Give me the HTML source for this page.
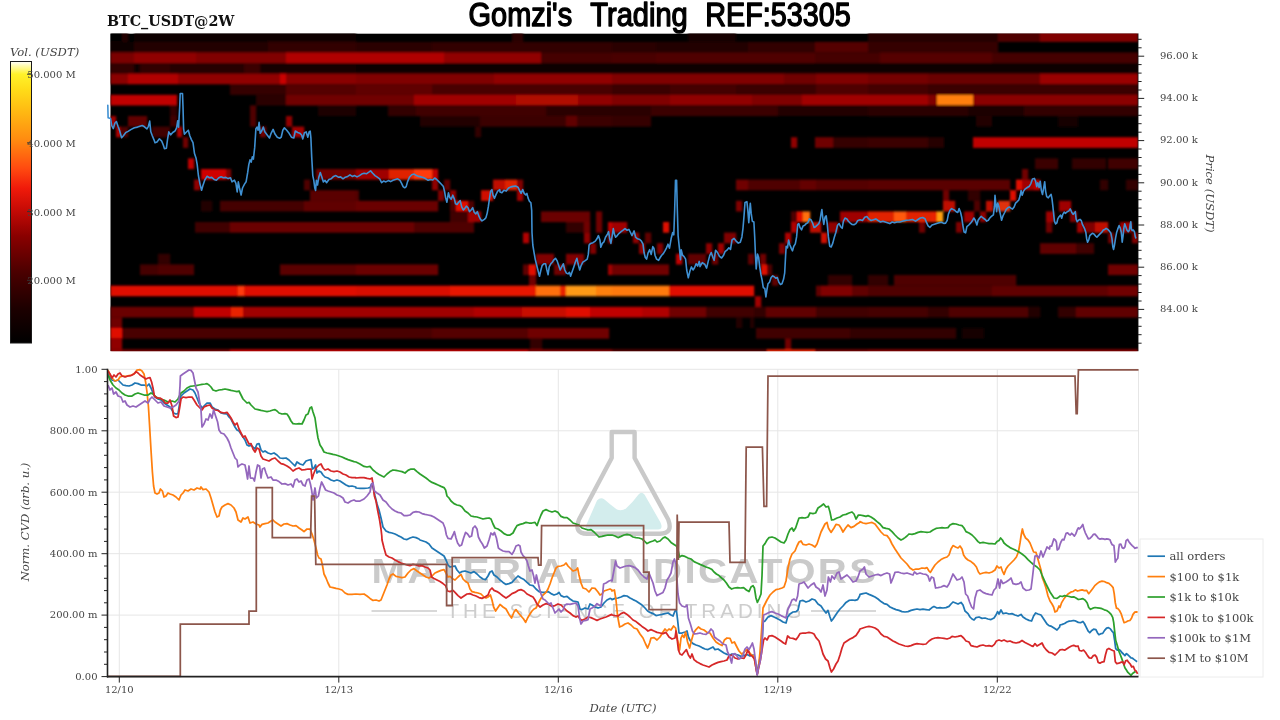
<!DOCTYPE html>
<html lang="en"><head><meta charset="utf-8"><title>Gomzi's Trading REF:53305</title>
<style>html,body{margin:0;padding:0;background:#fff;}body{width:1280px;height:720px;overflow:hidden;}svg{display:block;}text{font-family:'DejaVu Serif','Liberation Serif',serif;}.tk{font-size:10px;fill:#444;}.ax{font-size:11.6px;fill:#444;font-style:italic;}.lg{font-size:11.5px;fill:#444;}</style></head><body>
<svg width="1280" height="720" viewBox="0 0 1280 720">
<defs>
<linearGradient id="cb" x1="0" y1="1" x2="0" y2="0">
<stop offset="0" stop-color="#000000"/>
<stop offset="0.12" stop-color="#1c0000"/>
<stop offset="0.25" stop-color="#4a0000"/>
<stop offset="0.38" stop-color="#8a0000"/>
<stop offset="0.47" stop-color="#c40a05"/>
<stop offset="0.55" stop-color="#f01a0a"/>
<stop offset="0.62" stop-color="#ff4a10"/>
<stop offset="0.72" stop-color="#ff8a10"/>
<stop offset="0.82" stop-color="#ffb812"/>
<stop offset="0.9" stop-color="#ffdc18"/>
<stop offset="0.955" stop-color="#fff22a"/>
<stop offset="0.985" stop-color="#fffbb0"/>
<stop offset="1" stop-color="#ffffff"/>
</linearGradient>
<clipPath id="hc"><rect x="110.3" y="33.4" width="1027.8" height="317.8"/></clipPath>
<clipPath id="bc"><rect x="107" y="368" width="1032" height="309.5"/></clipPath>
<filter id="bl" x="-2%" y="-5%" width="104%" height="110%"><feGaussianBlur stdDeviation="1.0"/></filter>
</defs>
<rect width="1280" height="720" fill="#fff"/>
<g id="heatmap" clip-path="url(#hc)">
<rect x="110.3" y="33.4" width="1027.8" height="317.8" fill="#000"/>
<g filter="url(#bl)"><rect x="110.4" y="31.2" width="11.7" height="10.70" fill="#060000"/><rect x="122.0" y="31.2" width="6.2" height="10.70" fill="#240000"/><rect x="134.0" y="31.2" width="222.2" height="10.70" fill="#110000"/><rect x="110.4" y="41.8" width="23.7" height="10.70" fill="#100000"/><rect x="134.0" y="41.8" width="134.2" height="10.70" fill="#240000"/><rect x="268.0" y="41.8" width="88.2" height="10.70" fill="#330000"/><rect x="110.4" y="52.4" width="23.7" height="10.70" fill="#7a0000"/><rect x="134.0" y="52.4" width="62.1" height="10.70" fill="#900000"/><rect x="196.0" y="52.4" width="90.2" height="10.70" fill="#800000"/><rect x="286.0" y="52.4" width="70.2" height="10.70" fill="#b00000"/><rect x="110.4" y="63.0" width="23.7" height="10.70" fill="#300000"/><rect x="134.0" y="63.0" width="6.2" height="10.70" fill="#0a0000"/><rect x="140.0" y="63.0" width="30.1" height="10.70" fill="#300000"/><rect x="170.0" y="63.0" width="74.2" height="10.70" fill="#280000"/><rect x="244.0" y="63.0" width="16.1" height="10.70" fill="#3a0000"/><rect x="260.0" y="63.0" width="96.2" height="10.70" fill="#140000"/><rect x="110.4" y="73.6" width="17.7" height="10.70" fill="#8a0000"/><rect x="128.0" y="73.6" width="50.1" height="10.70" fill="#b00000"/><rect x="178.0" y="73.6" width="102.2" height="10.70" fill="#900000"/><rect x="280.0" y="73.6" width="6.2" height="10.70" fill="#c80000"/><rect x="286.0" y="73.6" width="70.2" height="10.70" fill="#8a0000"/><rect x="230.0" y="84.2" width="56.1" height="10.70" fill="#340000"/><rect x="286.0" y="84.2" width="70.2" height="10.70" fill="#540000"/><rect x="110.4" y="94.8" width="66.8" height="10.70" fill="#c00000"/><rect x="256.0" y="94.8" width="30.1" height="10.70" fill="#2a0000"/><rect x="286.0" y="94.8" width="70.2" height="10.70" fill="#700000"/><rect x="170.0" y="105.4" width="7.2" height="10.70" fill="#300000"/><rect x="250.0" y="105.4" width="6.2" height="10.70" fill="#500000"/><rect x="318.0" y="105.4" width="38.1" height="10.70" fill="#1a0000"/><rect x="110.4" y="116.0" width="5.7" height="10.70" fill="#a00000"/><rect x="128.0" y="116.0" width="19.1" height="10.70" fill="#600000"/><rect x="170.0" y="116.0" width="7.2" height="10.70" fill="#400000"/><rect x="250.0" y="116.0" width="6.2" height="10.70" fill="#500000"/><rect x="286.0" y="116.0" width="6.2" height="10.70" fill="#900000"/><rect x="116.0" y="126.6" width="4.2" height="10.70" fill="#b00000"/><rect x="120.0" y="126.6" width="8.2" height="10.70" fill="#500000"/><rect x="152.0" y="126.6" width="18.1" height="10.70" fill="#400000"/><rect x="177.0" y="126.6" width="5.2" height="10.70" fill="#b00000"/><rect x="260.0" y="126.6" width="6.2" height="10.70" fill="#700000"/><rect x="292.0" y="126.6" width="12.2" height="10.70" fill="#a00000"/><rect x="183.0" y="137.2" width="5.2" height="10.70" fill="#700000"/><rect x="188.0" y="158.4" width="6.2" height="10.70" fill="#c00000"/><rect x="201.0" y="169.0" width="25.1" height="10.70" fill="#d00000"/><rect x="226.0" y="169.0" width="5.2" height="10.70" fill="#800000"/><rect x="316.0" y="169.0" width="40.1" height="10.70" fill="#700000"/><rect x="194.0" y="179.6" width="6.2" height="10.70" fill="#900000"/><rect x="304.0" y="179.6" width="6.2" height="10.70" fill="#500000"/><rect x="310.0" y="190.2" width="46.1" height="10.70" fill="#5a0000"/><rect x="201.0" y="200.8" width="11.2" height="10.70" fill="#200000"/><rect x="220.0" y="200.8" width="84.2" height="10.70" fill="#450000"/><rect x="304.0" y="200.8" width="52.1" height="10.70" fill="#600000"/><rect x="195.0" y="222.0" width="35.1" height="10.70" fill="#400000"/><rect x="230.0" y="222.0" width="126.2" height="10.70" fill="#6a0000"/><rect x="158.0" y="253.8" width="12.2" height="10.70" fill="#300000"/><rect x="140.0" y="264.4" width="18.1" height="10.70" fill="#450000"/><rect x="158.0" y="264.4" width="36.1" height="10.70" fill="#500000"/><rect x="280.0" y="264.4" width="76.2" height="10.70" fill="#5a0000"/><rect x="110.4" y="285.6" width="127.8" height="10.70" fill="#e01000"/><rect x="238.0" y="285.6" width="6.2" height="10.70" fill="#ff3a10"/><rect x="244.0" y="285.6" width="112.2" height="10.70" fill="#e01000"/><rect x="110.4" y="306.8" width="83.8" height="10.70" fill="#6a0000"/><rect x="194.0" y="306.8" width="37.1" height="10.70" fill="#c00000"/><rect x="231.0" y="306.8" width="12.2" height="10.70" fill="#e82000"/><rect x="243.0" y="306.8" width="113.2" height="10.70" fill="#a00000"/><rect x="110.4" y="317.4" width="11.7" height="10.70" fill="#700000"/><rect x="110.4" y="328.0" width="11.7" height="10.70" fill="#e01000"/><rect x="122.0" y="328.0" width="234.2" height="10.70" fill="#4a0000"/><rect x="110.4" y="338.6" width="11.7" height="10.70" fill="#900000"/><rect x="110.4" y="349.2" width="11.7" height="10.70" fill="#900000"/><rect x="122.0" y="349.2" width="108.2" height="10.70" fill="#700000"/><rect x="230.0" y="349.2" width="126.2" height="10.70" fill="#c00000"/><rect x="512.0" y="31.2" width="11.2" height="10.70" fill="#2a0000"/><rect x="356.0" y="41.8" width="76.2" height="10.70" fill="#2a0000"/><rect x="432.0" y="41.8" width="180.2" height="10.70" fill="#330000"/><rect x="356.0" y="52.4" width="88.2" height="10.70" fill="#b00000"/><rect x="444.0" y="52.4" width="97.2" height="10.70" fill="#900000"/><rect x="541.0" y="52.4" width="71.2" height="10.70" fill="#450000"/><rect x="356.0" y="63.0" width="256.1" height="10.70" fill="#0a0000"/><rect x="356.0" y="73.6" width="138.2" height="10.70" fill="#800000"/><rect x="494.0" y="73.6" width="118.2" height="10.70" fill="#900000"/><rect x="356.0" y="84.2" width="76.2" height="10.70" fill="#600000"/><rect x="432.0" y="84.2" width="180.2" height="10.70" fill="#4a0000"/><rect x="356.0" y="94.8" width="58.1" height="10.70" fill="#700000"/><rect x="414.0" y="94.8" width="102.2" height="10.70" fill="#a00000"/><rect x="516.0" y="94.8" width="62.1" height="10.70" fill="#b01000"/><rect x="578.0" y="94.8" width="34.1" height="10.70" fill="#900000"/><rect x="388.0" y="105.4" width="28.1" height="10.70" fill="#300000"/><rect x="416.0" y="105.4" width="130.2" height="10.70" fill="#400000"/><rect x="546.0" y="105.4" width="66.2" height="10.70" fill="#2a0000"/><rect x="420.0" y="116.0" width="60.1" height="10.70" fill="#200000"/><rect x="480.0" y="116.0" width="86.2" height="10.70" fill="#3a0000"/><rect x="566.0" y="116.0" width="11.2" height="10.70" fill="#600000"/><rect x="577.0" y="116.0" width="35.1" height="10.70" fill="#3a0000"/><rect x="475.0" y="126.6" width="6.2" height="10.70" fill="#300000"/><rect x="356.0" y="169.0" width="33.1" height="10.70" fill="#a00000"/><rect x="389.0" y="169.0" width="25.1" height="10.70" fill="#e02000"/><rect x="414.0" y="169.0" width="18.1" height="10.70" fill="#ff3a10"/><rect x="432.0" y="169.0" width="6.2" height="10.70" fill="#c00000"/><rect x="432.0" y="179.6" width="6.2" height="10.70" fill="#900000"/><rect x="444.0" y="179.6" width="6.2" height="10.70" fill="#600000"/><rect x="493.0" y="179.6" width="12.2" height="10.70" fill="#c01000"/><rect x="505.0" y="179.6" width="12.2" height="10.70" fill="#e02000"/><rect x="517.0" y="179.6" width="6.2" height="10.70" fill="#800000"/><rect x="356.0" y="190.2" width="3.1" height="10.70" fill="#500000"/><rect x="438.0" y="190.2" width="6.2" height="10.70" fill="#800000"/><rect x="450.0" y="190.2" width="6.2" height="10.70" fill="#900000"/><rect x="481.0" y="190.2" width="12.2" height="10.70" fill="#d01000"/><rect x="517.0" y="190.2" width="6.2" height="10.70" fill="#a00000"/><rect x="356.0" y="200.8" width="82.2" height="10.70" fill="#6a0000"/><rect x="450.0" y="200.8" width="6.2" height="10.70" fill="#500000"/><rect x="456.0" y="200.8" width="12.2" height="10.70" fill="#e01000"/><rect x="468.0" y="200.8" width="6.2" height="10.70" fill="#500000"/><rect x="450.0" y="211.4" width="18.1" height="10.70" fill="#400000"/><rect x="468.0" y="211.4" width="13.2" height="10.70" fill="#a00000"/><rect x="541.0" y="211.4" width="49.1" height="10.70" fill="#6a0000"/><rect x="596.0" y="211.4" width="6.2" height="10.70" fill="#700000"/><rect x="356.0" y="222.0" width="58.1" height="10.70" fill="#6a0000"/><rect x="414.0" y="222.0" width="60.1" height="10.70" fill="#500000"/><rect x="566.0" y="222.0" width="18.1" height="10.70" fill="#300000"/><rect x="584.0" y="222.0" width="6.2" height="10.70" fill="#700000"/><rect x="596.0" y="222.0" width="6.2" height="10.70" fill="#700000"/><rect x="608.0" y="222.0" width="4.2" height="10.70" fill="#c00000"/><rect x="523.0" y="232.6" width="6.2" height="10.70" fill="#b00000"/><rect x="584.0" y="232.6" width="6.2" height="10.70" fill="#900000"/><rect x="608.0" y="232.6" width="4.2" height="10.70" fill="#900000"/><rect x="590.0" y="243.2" width="6.2" height="10.70" fill="#800000"/><rect x="536.0" y="253.8" width="18.1" height="10.70" fill="#800000"/><rect x="566.0" y="253.8" width="18.1" height="10.70" fill="#800000"/><rect x="356.0" y="264.4" width="82.2" height="10.70" fill="#6a0000"/><rect x="523.0" y="264.4" width="6.2" height="10.70" fill="#600000"/><rect x="529.0" y="264.4" width="7.2" height="10.70" fill="#e01000"/><rect x="554.0" y="264.4" width="12.2" height="10.70" fill="#700000"/><rect x="608.0" y="264.4" width="4.2" height="10.70" fill="#a00000"/><rect x="529.0" y="275.0" width="7.2" height="10.70" fill="#700000"/><rect x="356.0" y="285.6" width="94.2" height="10.70" fill="#d81000"/><rect x="450.0" y="285.6" width="86.2" height="10.70" fill="#e81800"/><rect x="536.0" y="285.6" width="24.1" height="10.70" fill="#ff7010"/><rect x="560.0" y="285.6" width="6.2" height="10.70" fill="#e82000"/><rect x="566.0" y="285.6" width="30.1" height="10.70" fill="#ff9a18"/><rect x="596.0" y="285.6" width="16.1" height="10.70" fill="#ff8010"/><rect x="356.0" y="306.8" width="118.2" height="10.70" fill="#a00000"/><rect x="474.0" y="306.8" width="48.1" height="10.70" fill="#b00000"/><rect x="522.0" y="306.8" width="44.1" height="10.70" fill="#c80800"/><rect x="566.0" y="306.8" width="24.1" height="10.70" fill="#e01000"/><rect x="590.0" y="306.8" width="22.1" height="10.70" fill="#c00000"/><rect x="356.0" y="328.0" width="76.2" height="10.70" fill="#4a0000"/><rect x="432.0" y="328.0" width="96.2" height="10.70" fill="#550000"/><rect x="528.0" y="328.0" width="81.2" height="10.70" fill="#700000"/><rect x="530.0" y="338.6" width="12.2" height="10.70" fill="#300000"/><rect x="356.0" y="349.2" width="172.2" height="10.70" fill="#c00000"/><rect x="528.0" y="349.2" width="84.2" height="10.70" fill="#800000"/><rect x="688.0" y="31.2" width="48.1" height="10.70" fill="#180000"/><rect x="612.0" y="41.8" width="44.1" height="10.70" fill="#2a0000"/><rect x="656.0" y="41.8" width="92.2" height="10.70" fill="#200000"/><rect x="748.0" y="41.8" width="67.2" height="10.70" fill="#300000"/><rect x="815.0" y="41.8" width="53.1" height="10.70" fill="#550000"/><rect x="612.0" y="52.4" width="44.1" height="10.70" fill="#4a0000"/><rect x="656.0" y="52.4" width="159.2" height="10.70" fill="#500000"/><rect x="815.0" y="52.4" width="53.1" height="10.70" fill="#450000"/><rect x="612.0" y="63.0" width="256.1" height="10.70" fill="#0a0000"/><rect x="612.0" y="73.6" width="172.2" height="10.70" fill="#800000"/><rect x="784.0" y="73.6" width="32.1" height="10.70" fill="#700000"/><rect x="816.0" y="73.6" width="52.1" height="10.70" fill="#800000"/><rect x="612.0" y="84.2" width="58.1" height="10.70" fill="#3a0000"/><rect x="670.0" y="84.2" width="66.2" height="10.70" fill="#450000"/><rect x="736.0" y="84.2" width="80.2" height="10.70" fill="#3a0000"/><rect x="816.0" y="84.2" width="52.1" height="10.70" fill="#500000"/><rect x="612.0" y="94.8" width="58.1" height="10.70" fill="#800000"/><rect x="670.0" y="94.8" width="82.2" height="10.70" fill="#900000"/><rect x="752.0" y="94.8" width="50.1" height="10.70" fill="#800000"/><rect x="802.0" y="94.8" width="66.2" height="10.70" fill="#a00000"/><rect x="612.0" y="105.4" width="39.1" height="10.70" fill="#2a0000"/><rect x="651.0" y="105.4" width="127.2" height="10.70" fill="#3a0000"/><rect x="778.0" y="105.4" width="90.2" height="10.70" fill="#200000"/><rect x="612.0" y="116.0" width="39.1" height="10.70" fill="#350000"/><rect x="791.0" y="137.2" width="6.2" height="10.70" fill="#900000"/><rect x="815.0" y="137.2" width="18.1" height="10.70" fill="#700000"/><rect x="833.0" y="137.2" width="35.1" height="10.70" fill="#350000"/><rect x="736.0" y="179.6" width="12.2" height="10.70" fill="#700000"/><rect x="748.0" y="179.6" width="52.1" height="10.70" fill="#500000"/><rect x="800.0" y="179.6" width="16.1" height="10.70" fill="#650000"/><rect x="816.0" y="179.6" width="52.1" height="10.70" fill="#550000"/><rect x="736.0" y="200.8" width="6.2" height="10.70" fill="#800000"/><rect x="791.0" y="211.4" width="6.2" height="10.70" fill="#500000"/><rect x="797.0" y="211.4" width="6.2" height="10.70" fill="#e01000"/><rect x="803.0" y="211.4" width="7.2" height="10.70" fill="#ff7010"/><rect x="840.0" y="211.4" width="28.1" height="10.70" fill="#a00000"/><rect x="612.0" y="222.0" width="15.2" height="10.70" fill="#a00000"/><rect x="663.0" y="222.0" width="6.2" height="10.70" fill="#e01000"/><rect x="791.0" y="222.0" width="6.2" height="10.70" fill="#b00000"/><rect x="810.0" y="222.0" width="11.2" height="10.70" fill="#c01000"/><rect x="828.0" y="222.0" width="10.2" height="10.70" fill="#900000"/><rect x="633.0" y="232.6" width="6.2" height="10.70" fill="#900000"/><rect x="645.0" y="232.6" width="6.2" height="10.70" fill="#600000"/><rect x="724.0" y="232.6" width="12.2" height="10.70" fill="#800000"/><rect x="785.0" y="232.6" width="6.2" height="10.70" fill="#b00000"/><rect x="821.0" y="232.6" width="6.2" height="10.70" fill="#d01000"/><rect x="639.0" y="243.2" width="6.2" height="10.70" fill="#900000"/><rect x="657.0" y="243.2" width="6.2" height="10.70" fill="#800000"/><rect x="706.0" y="243.2" width="6.2" height="10.70" fill="#900000"/><rect x="718.0" y="243.2" width="6.2" height="10.70" fill="#a00000"/><rect x="779.0" y="243.2" width="6.2" height="10.70" fill="#800000"/><rect x="676.0" y="253.8" width="6.2" height="10.70" fill="#c00000"/><rect x="688.0" y="253.8" width="18.1" height="10.70" fill="#600000"/><rect x="712.0" y="253.8" width="6.2" height="10.70" fill="#700000"/><rect x="748.0" y="253.8" width="6.2" height="10.70" fill="#600000"/><rect x="760.0" y="253.8" width="6.2" height="10.70" fill="#700000"/><rect x="612.0" y="264.4" width="57.1" height="10.70" fill="#700000"/><rect x="761.0" y="264.4" width="6.2" height="10.70" fill="#e01000"/><rect x="767.0" y="264.4" width="5.2" height="10.70" fill="#500000"/><rect x="772.0" y="275.0" width="6.2" height="10.70" fill="#600000"/><rect x="828.0" y="275.0" width="24.1" height="10.70" fill="#300000"/><rect x="612.0" y="285.6" width="57.1" height="10.70" fill="#ff7a10"/><rect x="669.0" y="285.6" width="85.2" height="10.70" fill="#e01000"/><rect x="816.0" y="285.6" width="5.2" height="10.70" fill="#600000"/><rect x="821.0" y="285.6" width="31.1" height="10.70" fill="#800000"/><rect x="852.0" y="285.6" width="16.1" height="10.70" fill="#600000"/><rect x="755.0" y="296.2" width="6.2" height="10.70" fill="#a00000"/><rect x="612.0" y="306.8" width="30.1" height="10.70" fill="#c00000"/><rect x="642.0" y="306.8" width="27.1" height="10.70" fill="#b00000"/><rect x="669.0" y="306.8" width="37.1" height="10.70" fill="#700000"/><rect x="706.0" y="306.8" width="48.1" height="10.70" fill="#400000"/><rect x="754.0" y="306.8" width="12.2" height="10.70" fill="#300000"/><rect x="766.0" y="306.8" width="50.1" height="10.70" fill="#600000"/><rect x="816.0" y="306.8" width="52.1" height="10.70" fill="#400000"/><rect x="736.0" y="317.4" width="6.2" height="10.70" fill="#200000"/><rect x="750.0" y="317.4" width="4.2" height="10.70" fill="#200000"/><rect x="756.0" y="328.0" width="94.2" height="10.70" fill="#400000"/><rect x="850.0" y="328.0" width="18.1" height="10.70" fill="#300000"/><rect x="785.0" y="338.6" width="6.2" height="10.70" fill="#700000"/><rect x="612.0" y="349.2" width="155.2" height="10.70" fill="#500000"/><rect x="767.0" y="349.2" width="48.1" height="10.70" fill="#e02000"/><rect x="815.0" y="349.2" width="53.1" height="10.70" fill="#700000"/><rect x="868.0" y="31.2" width="130.2" height="10.70" fill="#250000"/><rect x="998.0" y="31.2" width="42.1" height="10.70" fill="#500000"/><rect x="1040.0" y="31.2" width="98.2" height="10.70" fill="#800000"/><rect x="868.0" y="41.8" width="130.2" height="10.70" fill="#350000"/><rect x="868.0" y="52.4" width="12.2" height="10.70" fill="#450000"/><rect x="880.0" y="52.4" width="112.2" height="10.70" fill="#550000"/><rect x="992.0" y="52.4" width="146.2" height="10.70" fill="#450000"/><rect x="868.0" y="63.0" width="270.2" height="10.70" fill="#0a0000"/><rect x="868.0" y="73.6" width="60.1" height="10.70" fill="#750000"/><rect x="928.0" y="73.6" width="112.2" height="10.70" fill="#6a0000"/><rect x="1040.0" y="73.6" width="98.2" height="10.70" fill="#9a0000"/><rect x="868.0" y="84.2" width="60.1" height="10.70" fill="#450000"/><rect x="928.0" y="84.2" width="210.2" height="10.70" fill="#3a0000"/><rect x="868.0" y="94.8" width="60.1" height="10.70" fill="#a00000"/><rect x="928.0" y="94.8" width="9.2" height="10.70" fill="#800000"/><rect x="937.0" y="94.8" width="36.1" height="10.70" fill="#ff7f0e"/><rect x="973.0" y="94.8" width="165.2" height="10.70" fill="#8a0000"/><rect x="868.0" y="105.4" width="100.2" height="10.70" fill="#2a0000"/><rect x="968.0" y="105.4" width="56.1" height="10.70" fill="#1a0000"/><rect x="1024.0" y="105.4" width="114.2" height="10.70" fill="#300000"/><rect x="976.0" y="116.0" width="16.1" height="10.70" fill="#200000"/><rect x="1058.0" y="116.0" width="20.1" height="10.70" fill="#180000"/><rect x="868.0" y="137.2" width="60.1" height="10.70" fill="#3a0000"/><rect x="928.0" y="137.2" width="16.1" height="10.70" fill="#250000"/><rect x="973.0" y="137.2" width="165.2" height="10.70" fill="#c00000"/><rect x="1035.0" y="158.4" width="23.1" height="10.70" fill="#3a0000"/><rect x="1072.0" y="158.4" width="34.1" height="10.70" fill="#300000"/><rect x="1108.0" y="158.4" width="30.2" height="10.70" fill="#400000"/><rect x="1022.0" y="169.0" width="6.2" height="10.70" fill="#700000"/><rect x="868.0" y="179.6" width="142.2" height="10.70" fill="#5a0000"/><rect x="1016.0" y="179.6" width="6.2" height="10.70" fill="#e01000"/><rect x="1022.0" y="179.6" width="12.2" height="10.70" fill="#a00000"/><rect x="1034.0" y="179.6" width="6.2" height="10.70" fill="#c00000"/><rect x="1100.0" y="179.6" width="8.2" height="10.70" fill="#300000"/><rect x="1126.0" y="179.6" width="12.2" height="10.70" fill="#300000"/><rect x="943.0" y="190.2" width="6.2" height="10.70" fill="#700000"/><rect x="968.0" y="190.2" width="12.2" height="10.70" fill="#300000"/><rect x="1010.0" y="190.2" width="6.2" height="10.70" fill="#e01000"/><rect x="943.0" y="200.8" width="12.2" height="10.70" fill="#c01000"/><rect x="974.0" y="200.8" width="6.2" height="10.70" fill="#500000"/><rect x="986.0" y="200.8" width="7.2" height="10.70" fill="#c01000"/><rect x="998.0" y="200.8" width="12.2" height="10.70" fill="#e03010"/><rect x="1059.0" y="200.8" width="12.2" height="10.70" fill="#a00000"/><rect x="868.0" y="211.4" width="26.1" height="10.70" fill="#e02000"/><rect x="894.0" y="211.4" width="12.2" height="10.70" fill="#ff5a10"/><rect x="906.0" y="211.4" width="25.1" height="10.70" fill="#e02000"/><rect x="931.0" y="211.4" width="6.2" height="10.70" fill="#e82000"/><rect x="937.0" y="211.4" width="6.2" height="10.70" fill="#ffa010"/><rect x="964.0" y="211.4" width="10.2" height="10.70" fill="#a00000"/><rect x="980.0" y="211.4" width="6.2" height="10.70" fill="#900000"/><rect x="1046.0" y="211.4" width="8.2" height="10.70" fill="#a00000"/><rect x="1070.0" y="211.4" width="7.2" height="10.70" fill="#800000"/><rect x="919.0" y="222.0" width="6.2" height="10.70" fill="#700000"/><rect x="956.0" y="222.0" width="6.2" height="10.70" fill="#800000"/><rect x="1046.0" y="222.0" width="6.2" height="10.70" fill="#700000"/><rect x="1077.0" y="222.0" width="6.2" height="10.70" fill="#a00000"/><rect x="1084.0" y="222.0" width="11.2" height="10.70" fill="#800000"/><rect x="1095.0" y="222.0" width="13.2" height="10.70" fill="#c01000"/><rect x="1120.0" y="222.0" width="12.2" height="10.70" fill="#a00000"/><rect x="1108.0" y="232.6" width="6.2" height="10.70" fill="#700000"/><rect x="1132.0" y="232.6" width="6.2" height="10.70" fill="#800000"/><rect x="1040.0" y="243.2" width="36.1" height="10.70" fill="#600000"/><rect x="1076.0" y="243.2" width="18.1" height="10.70" fill="#400000"/><rect x="1108.0" y="264.4" width="30.2" height="10.70" fill="#700000"/><rect x="868.0" y="275.0" width="20.1" height="10.70" fill="#300000"/><rect x="894.0" y="275.0" width="122.2" height="10.70" fill="#500000"/><rect x="868.0" y="285.6" width="124.2" height="10.70" fill="#500000"/><rect x="992.0" y="285.6" width="116.2" height="10.70" fill="#600000"/><rect x="1108.0" y="285.6" width="30.2" height="10.70" fill="#700000"/><rect x="868.0" y="306.8" width="60.1" height="10.70" fill="#450000"/><rect x="928.0" y="306.8" width="21.1" height="10.70" fill="#300000"/><rect x="949.0" y="306.8" width="79.2" height="10.70" fill="#500000"/><rect x="1028.0" y="306.8" width="12.2" height="10.70" fill="#200000"/><rect x="1058.0" y="306.8" width="18.1" height="10.70" fill="#300000"/><rect x="1076.0" y="306.8" width="62.2" height="10.70" fill="#600000"/><rect x="868.0" y="328.0" width="88.2" height="10.70" fill="#300000"/><rect x="962.0" y="328.0" width="22.1" height="10.70" fill="#150000"/><rect x="868.0" y="349.2" width="270.2" height="10.70" fill="#800000"/></g>
</g>
<path id="price" d="M107.8 105.2 L108.1 117.7 L110.6 118.5 L111.7 125.5 L113.3 128.6 L114.8 123.2 L116.4 121.6 L118.0 126.3 L119.5 130.2 L121.6 137.7 L123.4 135.7 L125.8 132.5 L128.1 131.4 L131.2 129.4 L134.4 127.8 L137.5 127.1 L139.8 126.3 L142.2 125.5 L144.5 126.8 L146.9 128.9 L148.4 126.3 L149.7 121.1 L150.8 131.8 L152.3 135.7 L153.9 139.6 L155.0 142.7 L157.0 141.9 L159.4 138.8 L161.7 141.1 L163.3 145.0 L164.4 148.6 L166.4 148.2 L167.5 139.6 L168.8 131.8 L170.6 134.9 L172.7 132.5 L175.0 131.0 L176.6 127.8 L177.7 120.8 L178.6 127.1 L179.7 106.8 L180.2 93.5 L182.5 93.5 L183.0 106.8 L183.6 128.6 L184.4 134.1 L186.7 131.8 L188.3 130.2 L189.8 135.7 L191.4 139.6 L193.0 142.7 L194.5 153.6 L196.1 158.3 L197.2 164.6 L198.4 175.5 L200.0 184.1 L201.6 190.3 L203.1 184.9 L204.7 180.2 L207.0 176.3 L209.4 177.8 L211.7 177.4 L214.1 179.4 L216.4 180.2 L218.8 177.8 L221.1 176.8 L223.4 177.8 L225.8 177.4 L228.1 178.6 L230.5 177.8 L232.0 181.8 L234.4 180.2 L235.9 183.3 L237.2 191.9 L238.3 181.8 L239.5 188.0 L241.1 195.0 L242.5 188.0 L244.5 184.1 L246.1 181.8 L247.7 172.4 L248.8 164.6 L250.0 159.9 L251.2 162.2 L252.3 156.8 L253.4 159.1 L254.7 147.4 L255.9 128.6 L257.0 127.1 L258.1 130.2 L259.1 122.4 L260.2 133.3 L261.7 131.0 L263.3 127.1 L264.8 131.8 L267.2 134.9 L269.5 138.0 L271.1 133.3 L273.1 129.4 L275.0 134.1 L277.3 137.2 L279.7 138.3 L281.2 137.2 L282.8 130.2 L284.4 127.8 L286.7 130.2 L289.1 133.3 L291.4 137.2 L293.8 138.0 L295.3 131.0 L297.7 132.5 L299.8 133.3 L300.0 133.4 L301.6 135.0 L302.8 138.9 L304.4 132.7 L306.2 131.9 L307.8 137.3 L309.1 131.9 L310.2 131.1 L310.9 138.1 L311.7 156.9 L312.8 175.6 L313.8 180.3 L314.8 188.1 L315.6 190.5 L316.4 180.3 L317.5 185.0 L318.8 177.2 L320.3 172.5 L321.9 177.2 L323.4 181.9 L325.0 180.3 L326.6 182.7 L328.9 179.5 L331.2 178.8 L333.6 176.4 L335.9 175.6 L338.3 177.2 L340.6 176.9 L343.0 178.8 L345.3 177.2 L347.7 176.4 L350.0 174.8 L352.3 176.4 L354.7 175.6 L357.0 176.9 L359.4 175.6 L361.7 174.1 L364.1 173.3 L366.4 173.8 L368.8 172.2 L370.6 170.9 L372.7 173.3 L375.0 175.6 L377.3 177.2 L379.7 178.8 L381.6 182.7 L383.6 181.1 L385.9 181.9 L388.3 180.6 L390.6 181.6 L393.0 180.3 L395.3 179.5 L397.7 178.8 L400.0 180.3 L401.6 183.4 L403.1 186.6 L404.7 187.8 L406.2 186.6 L407.5 181.9 L409.4 177.2 L411.7 174.8 L414.1 174.1 L416.4 175.6 L418.8 176.4 L421.1 176.9 L423.4 177.5 L425.8 178.8 L428.1 180.3 L430.5 179.5 L432.8 180.0 L434.7 178.0 L436.7 179.5 L439.1 181.9 L441.4 184.2 L443.4 186.6 L444.5 191.2 L445.6 197.5 L446.9 202.2 L448.4 192.8 L449.7 197.5 L451.2 199.1 L452.8 195.2 L454.4 199.1 L455.5 203.8 L457.0 204.5 L458.6 202.2 L460.2 200.6 L461.7 206.9 L463.3 210.0 L464.8 208.4 L466.4 206.1 L468.0 207.7 L469.5 211.6 L471.1 210.0 L472.7 207.7 L474.2 212.3 L475.8 213.9 L477.3 211.6 L478.9 216.2 L480.5 219.4 L482.0 220.9 L484.4 219.4 L485.9 217.8 L487.2 213.1 L488.3 206.9 L489.4 199.1 L490.6 191.2 L491.9 189.7 L493.0 195.2 L494.5 198.3 L496.1 194.4 L497.7 191.2 L499.8 189.7 L500.0 191.9 L501.9 192.7 L503.9 190.3 L506.2 191.1 L508.6 188.0 L510.9 186.9 L513.3 186.4 L515.6 186.1 L518.0 187.2 L519.5 190.3 L521.1 193.4 L522.7 189.5 L524.2 193.4 L525.8 195.0 L526.9 193.4 L528.1 198.1 L529.4 201.2 L530.9 202.8 L531.7 210.6 L532.0 232.5 L532.8 245.0 L534.1 252.8 L535.2 259.1 L536.7 265.3 L538.3 271.6 L539.5 276.2 L540.9 270.0 L542.2 265.3 L543.8 263.8 L545.6 263.8 L546.9 270.0 L548.1 274.7 L549.2 266.9 L550.8 263.8 L552.3 262.2 L553.9 259.8 L555.5 258.3 L557.0 260.6 L558.6 265.3 L560.2 270.0 L561.7 266.9 L563.3 263.8 L564.8 270.0 L566.4 273.1 L568.0 273.9 L569.5 272.3 L570.6 276.2 L572.2 271.6 L573.8 266.9 L575.3 262.2 L576.9 258.3 L578.1 263.8 L579.7 270.0 L581.2 265.3 L582.8 262.2 L585.2 260.6 L587.2 259.1 L588.3 254.4 L589.1 245.0 L590.6 243.4 L593.0 242.7 L595.3 241.1 L596.9 238.8 L598.4 235.6 L600.0 240.3 L600.8 247.3 L602.3 243.4 L603.9 241.9 L605.5 237.2 L607.5 234.1 L608.6 231.7 L609.7 238.8 L610.9 243.4 L612.2 235.6 L613.3 228.6 L614.4 234.1 L615.6 237.2 L617.2 235.6 L619.1 233.3 L621.1 231.7 L623.1 230.2 L625.0 228.6 L626.9 230.2 L628.9 229.4 L630.5 232.5 L632.0 235.6 L634.1 230.9 L635.6 237.2 L637.5 238.8 L639.8 239.5 L641.4 241.1 L643.0 244.2 L644.1 252.8 L645.3 257.5 L646.6 259.1 L648.1 252.8 L649.7 249.7 L651.2 254.4 L652.8 246.6 L653.9 248.1 L655.0 255.2 L656.6 259.1 L658.6 260.3 L660.2 257.5 L661.7 255.2 L663.3 253.6 L664.8 251.2 L666.4 248.1 L668.0 244.2 L669.5 248.1 L671.1 238.8 L672.7 232.5 L673.8 234.8 L674.7 209.1 L675.5 180.2 L676.6 180.2 L677.3 209.1 L678.1 235.6 L679.4 248.1 L680.5 259.8 L681.2 249.7 L682.5 255.2 L684.1 256.7 L685.6 259.1 L686.7 270.0 L688.3 277.8 L689.8 271.6 L691.4 266.9 L693.0 270.0 L694.5 267.7 L696.1 263.8 L697.7 266.1 L699.2 261.4 L699.8 263.8 L700.0 266.6 L702.3 262.7 L704.7 264.2 L706.6 268.1 L708.1 261.9 L709.7 255.6 L711.2 252.5 L712.8 257.2 L714.1 260.3 L715.6 250.2 L717.5 252.5 L719.5 256.4 L721.6 258.0 L723.4 255.6 L725.0 251.7 L726.9 250.2 L728.9 247.8 L730.5 249.4 L732.0 240.0 L734.1 238.4 L735.9 240.8 L738.3 243.1 L740.3 242.3 L741.9 236.9 L743.0 228.3 L744.1 215.0 L745.0 202.5 L746.9 201.7 L747.7 208.8 L748.8 222.8 L749.7 210.3 L750.3 203.3 L751.2 213.4 L752.3 221.2 L753.9 222.0 L754.7 236.9 L755.5 255.6 L756.2 268.9 L757.5 254.1 L758.6 257.2 L759.7 266.6 L760.9 274.4 L762.2 280.6 L763.3 287.7 L764.8 288.4 L765.9 297.0 L766.9 290.0 L768.0 283.8 L769.5 282.2 L771.1 277.5 L772.7 275.9 L774.2 276.7 L775.8 278.3 L777.3 277.5 L778.9 282.2 L780.5 284.5 L782.0 283.8 L783.6 279.1 L784.7 272.8 L785.6 255.6 L786.2 246.2 L787.5 247.8 L788.6 240.0 L789.8 244.7 L791.4 248.6 L792.5 250.9 L793.8 246.2 L795.3 243.9 L796.6 236.9 L797.7 224.4 L798.8 223.6 L800.0 227.5 L801.6 229.8 L803.1 225.9 L804.7 225.2 L806.2 223.6 L807.8 222.8 L809.4 218.9 L810.9 219.7 L812.5 222.8 L814.1 227.5 L815.6 226.7 L817.2 225.2 L818.8 223.6 L820.0 220.5 L821.1 213.4 L821.9 209.5 L822.7 217.3 L823.8 224.4 L825.0 217.3 L826.2 215.8 L827.3 224.4 L828.4 236.9 L829.7 246.2 L831.2 247.0 L832.8 243.1 L834.4 236.9 L835.9 232.2 L837.5 225.2 L839.1 223.6 L840.6 226.7 L842.2 228.3 L843.4 221.2 L845.0 218.1 L846.9 218.9 L848.4 221.2 L850.0 222.8 L851.9 224.4 L853.9 224.7 L855.9 223.6 L857.8 220.5 L860.2 219.7 L862.5 220.5 L864.8 217.3 L866.9 216.6 L868.8 218.9 L871.1 220.5 L873.4 219.7 L875.8 218.9 L878.1 220.5 L880.5 222.0 L882.8 221.2 L885.2 222.0 L887.5 222.8 L889.8 223.6 L892.2 222.0 L894.5 222.8 L896.9 222.0 L899.8 222.0 L900.0 221.9 L903.1 221.1 L906.2 220.3 L909.4 220.0 L912.5 219.5 L915.6 221.1 L918.0 219.5 L920.3 218.0 L922.7 217.5 L925.0 218.8 L926.6 222.7 L928.1 225.8 L930.0 227.3 L932.0 225.0 L934.4 224.2 L936.7 223.4 L939.1 222.7 L941.4 222.2 L943.8 223.4 L945.6 223.1 L947.2 220.3 L948.4 214.1 L950.0 210.2 L951.6 208.6 L953.1 209.4 L954.7 210.2 L956.2 211.7 L957.8 212.5 L959.1 208.6 L960.6 212.5 L961.7 217.2 L962.8 225.0 L964.1 232.0 L965.6 232.8 L966.9 226.6 L968.8 225.0 L970.3 223.4 L972.2 221.1 L973.8 218.0 L975.3 220.3 L976.9 225.0 L978.1 220.3 L979.7 218.0 L981.2 216.4 L983.1 218.0 L985.2 219.5 L986.7 221.1 L988.3 220.3 L989.8 218.0 L991.4 216.4 L993.4 214.8 L994.5 206.2 L995.0 195.3 L995.6 201.6 L996.6 211.7 L997.7 203.1 L998.8 206.2 L1000.0 212.5 L1001.6 220.3 L1003.1 215.6 L1004.7 212.5 L1006.2 209.4 L1007.8 207.8 L1009.4 207.0 L1010.9 208.1 L1012.5 209.1 L1014.1 207.0 L1015.6 203.1 L1017.2 201.6 L1018.8 200.0 L1020.0 196.1 L1021.1 190.6 L1022.2 195.3 L1023.4 191.4 L1025.0 189.1 L1027.3 187.5 L1029.4 186.2 L1030.9 183.6 L1032.5 178.9 L1034.4 178.4 L1035.6 181.2 L1036.7 186.7 L1037.8 182.8 L1039.1 187.5 L1040.2 181.2 L1041.4 190.6 L1042.5 194.5 L1043.9 186.7 L1044.7 181.7 L1045.6 191.1 L1046.7 196.7 L1048.3 197.8 L1050.0 195.6 L1051.1 194.4 L1052.0 198.9 L1052.8 205.6 L1053.6 213.3 L1054.4 221.1 L1055.6 223.9 L1056.9 222.8 L1057.8 218.9 L1059.1 216.7 L1060.6 215.0 L1061.7 218.3 L1062.8 214.4 L1064.2 212.2 L1065.6 213.3 L1067.2 211.7 L1068.7 211.1 L1070.2 208.9 L1071.7 212.2 L1073.1 214.4 L1074.4 212.8 L1075.3 211.7 L1076.1 218.9 L1077.2 221.7 L1078.7 220.0 L1080.0 219.4 L1081.3 220.6 L1082.4 224.4 L1083.6 226.7 L1084.7 228.9 L1085.8 232.2 L1086.7 238.9 L1087.6 242.2 L1088.7 240.0 L1089.8 235.6 L1091.1 234.4 L1092.4 233.3 L1093.9 233.9 L1095.6 236.1 L1096.9 237.2 L1098.3 235.6 L1100.0 233.9 L1101.7 232.2 L1103.3 230.0 L1104.7 229.4 L1106.1 228.3 L1107.8 229.4 L1109.4 231.1 L1110.9 233.3 L1112.0 238.9 L1112.8 246.7 L1113.6 249.4 L1114.4 245.6 L1115.6 237.8 L1116.7 232.2 L1117.8 228.9 L1119.1 225.6 L1120.2 227.8 L1121.3 232.2 L1122.2 242.2 L1123.1 235.6 L1123.9 227.8 L1124.7 223.9 L1125.8 226.7 L1126.9 230.0 L1128.3 231.7 L1129.4 230.0 L1130.2 224.4 L1130.8 221.7 L1131.3 228.9 L1132.2 230.6 L1133.3 230.0 L1134.4 231.7 L1135.3 236.7 L1135.8 237.8" fill="none" stroke="#3f90d2" stroke-width="1.6" stroke-linejoin="round" stroke-linecap="round"/>
<g id="raxis" stroke="#222" stroke-width="1" fill="none">
<path d="M1138.3 33.4V351.2" stroke-width="0.6"/>
<path d="M1138 343.2h3.6M1138 334.7h3.6M1138 326.3h3.6M1138 317.8h3.6M1138 309.4h6.2M1138 301.0h3.6M1138 292.5h3.6M1138 284.1h3.6M1138 275.6h3.6M1138 267.2h6.2M1138 258.8h3.6M1138 250.3h3.6M1138 241.9h3.6M1138 233.4h3.6M1138 225.0h6.2M1138 216.6h3.6M1138 208.1h3.6M1138 199.7h3.6M1138 191.2h3.6M1138 182.8h6.2M1138 174.4h3.6M1138 165.9h3.6M1138 157.5h3.6M1138 149.0h3.6M1138 140.6h6.2M1138 132.2h3.6M1138 123.7h3.6M1138 115.3h3.6M1138 106.8h3.6M1138 98.4h6.2M1138 90.0h3.6M1138 81.5h3.6M1138 73.1h3.6M1138 64.6h3.6M1138 56.2h6.2M1138 47.8h3.6M1138 39.3h3.6"/>
</g>
<text class="tk" x="1160" y="58.9">96.00 k</text>
<text class="tk" x="1160" y="101.1">94.00 k</text>
<text class="tk" x="1160" y="143.3">92.00 k</text>
<text class="tk" x="1160" y="185.5">90.00 k</text>
<text class="tk" x="1160" y="227.7">88.00 k</text>
<text class="tk" x="1160" y="269.9">86.00 k</text>
<text class="tk" x="1160" y="312.1">84.00 k</text>
<text class="ax" transform="translate(1206.3,193.5) rotate(90)" text-anchor="middle">Price (USDT)</text>
<text x="107" y="26.3" style="font-weight:bold;font-size:14.3px;fill:#111">BTC_USDT@2W</text>
<text y="25.8" style="font-family:'Liberation Sans','DejaVu Sans',sans-serif;font-size:32.5px;fill:#000;stroke:#000;stroke-width:1.4px;stroke-linejoin:round;stroke-linecap:round"><tspan x="468.6" textLength="103.5" lengthAdjust="spacingAndGlyphs">Gomzi's</tspan><tspan x="579" textLength="10" lengthAdjust="spacingAndGlyphs"> </tspan><tspan x="590.3" textLength="97.5" lengthAdjust="spacingAndGlyphs">Trading</tspan><tspan x="694" textLength="10" lengthAdjust="spacingAndGlyphs"> </tspan><tspan x="705.3" textLength="145.5" lengthAdjust="spacingAndGlyphs">REF:53305</tspan></text>
<text class="ax" x="10" y="56">Vol. (USDT)</text>
<rect x="10.5" y="61.5" width="21" height="281.5" fill="url(#cb)" stroke="#1a1a1a" stroke-width="1"/>
<path d="M27 74.2h4.5" stroke="#333" stroke-width="1"/>
<text class="tk" x="27.3" y="78.3" textLength="48.5" lengthAdjust="spacingAndGlyphs">50.000 M</text>
<path d="M27 142.9h4.5" stroke="#333" stroke-width="1"/>
<text class="tk" x="27.3" y="147.0" textLength="48.5" lengthAdjust="spacingAndGlyphs">40.000 M</text>
<path d="M27 211.6h4.5" stroke="#333" stroke-width="1"/>
<text class="tk" x="27.3" y="215.7" textLength="48.5" lengthAdjust="spacingAndGlyphs">30.000 M</text>
<path d="M27 280.3h4.5" stroke="#333" stroke-width="1"/>
<text class="tk" x="27.3" y="284.4" textLength="48.5" lengthAdjust="spacingAndGlyphs">20.000 M</text>
<g id="grid" stroke="#e6e6e6" stroke-width="1" fill="none">
<path d="M119.3 369.3V676.6"/>
<path d="M338.8 369.3V676.6"/>
<path d="M558.3 369.3V676.6"/>
<path d="M777.8 369.3V676.6"/>
<path d="M997.3 369.3V676.6"/>
<path d="M107.5 676.6H1138.5"/>
<path d="M107.5 615.1H1138.5"/>
<path d="M107.5 553.7H1138.5"/>
<path d="M107.5 492.2H1138.5"/>
<path d="M107.5 430.8H1138.5"/>
<path d="M107.5 369.3H1138.5"/>
<path d="M1138.5 369.3V676.6"/>
</g>
<g id="watermark"><path d="M588 529.5 Q584 529.5 586.5 524.5 L597 500.5 Q600.5 496.5 604.5 499.5 Q612 506 617 509.5 Q621.5 511.5 626 508.5 Q633 502 638.5 494.5 Q641.5 491 644.5 494.5 L660.5 522.5 Q663.5 529.5 658 529.5 Z" fill="#d3eded"/><path d="M611.7 432 H634.6 V458 L668.2 519.5 Q673.5 533.7 660 533.7 H587 Q573.5 533.7 579 519.5 L611.7 458 Z" fill="none" stroke="#c9c9c9" stroke-width="4.4" stroke-linejoin="round"/><text transform="translate(371.5 582.6) scale(1.13 1)" x="0" y="0" textLength="446.5" lengthAdjust="spacing" style="font-family:'Liberation Sans',Arial,sans-serif;font-weight:bold;font-size:35.6px;fill:#cacaca">MATERIAL INDICATORS</text><text x="446.5" y="618" textLength="355" lengthAdjust="spacing" style="font-family:'Liberation Sans',Arial,sans-serif;font-size:20.6px;fill:#cdcdcd">THE SCIENCE OF TRADING</text><path d="M371.5 611H437M811 611H876" stroke="#cccccc" stroke-width="1.6" fill="none"/></g>
<g id="lines" fill="none" stroke-width="1.75" stroke-linejoin="round" stroke-linecap="butt" clip-path="url(#bc)"><path d="M108.0 373.0 L110.0 377.0 L112.0 380.0 L115.0 381.0 L118.0 380.0 L120.0 382.0 L123.0 385.0 L126.0 385.6 L129.0 386.0 L132.0 385.0 L135.0 383.0 L138.0 383.6 L141.0 385.0 L144.0 385.0 L147.0 386.0 L149.0 384.0 L151.0 388.0 L153.0 393.0 L155.0 397.0 L158.0 399.0 L161.0 400.0 L164.0 403.0 L167.0 405.0 L170.0 407.0 L172.0 410.0 L173.6 413.0 L176.0 414.0 L178.0 413.6 L179.6 404.0 L181.0 396.0 L184.0 393.0 L187.0 391.0 L190.0 389.0 L193.0 390.0 L195.0 393.0 L197.0 398.0 L199.0 403.0 L202.0 408.0 L205.0 405.0 L207.0 403.0 L210.0 403.0 L212.0 407.0 L215.0 409.0 L218.0 410.0 L221.0 413.0 L224.0 413.6 L227.0 414.0 L229.0 417.0 L231.0 419.0 L233.0 423.0 L235.0 427.0 L237.0 430.0 L239.0 431.0 L241.0 434.0 L243.0 437.0 L245.0 440.0 L247.0 445.0 L249.0 446.0 L251.0 445.0 L253.0 447.0 L255.0 449.0 L257.0 444.0 L259.0 443.6 L261.0 450.0 L263.0 452.0 L265.0 451.0 L268.0 453.0 L271.0 454.0 L274.0 453.0 L277.0 455.0 L280.0 458.0 L283.0 458.4 L286.0 458.0 L289.0 460.0 L292.0 463.0 L295.0 466.0 L297.0 462.0 L300.0 464.0 L303.0 465.0 L306.0 461.0 L309.0 460.0 L311.0 459.6 L312.4 469.0 L314.0 468.0 L315.6 465.0 L317.0 473.0 L319.0 471.0 L321.0 472.0 L323.0 475.0 L325.0 477.0 L328.0 478.0 L331.0 480.0 L334.0 481.0 L337.0 480.0 L340.0 481.0 L343.0 483.0 L346.0 485.0 L349.0 486.4 L352.0 486.0 L355.8 487.0 L356.0 488.0 L360.0 488.4 L364.0 488.4 L368.0 488.0 L370.0 487.6 L371.6 484.0 L373.0 487.0 L375.0 496.0 L377.0 504.0 L379.0 510.0 L381.0 518.0 L383.0 527.0 L386.0 531.0 L389.0 532.4 L392.0 533.0 L395.0 534.0 L398.0 535.6 L401.0 537.0 L404.0 539.0 L407.0 539.6 L410.0 538.0 L413.0 537.0 L416.0 537.6 L419.0 539.0 L420.0 540.0 L423.0 541.0 L426.0 542.0 L429.0 544.0 L432.0 548.0 L435.0 550.0 L438.0 552.0 L441.0 554.0 L444.0 556.0 L446.0 560.0 L448.0 565.0 L450.0 567.0 L453.0 566.4 L455.0 566.0 L457.0 570.0 L459.6 573.0 L462.0 571.6 L465.0 571.0 L468.0 572.0 L471.0 573.0 L474.0 571.6 L477.0 574.0 L480.0 577.0 L483.0 579.0 L485.6 579.6 L488.0 576.0 L490.0 572.0 L492.0 571.0 L494.0 575.0 L497.0 577.0 L500.0 580.0 L503.0 582.4 L506.0 584.4 L509.0 583.6 L512.0 582.4 L515.0 579.0 L518.0 576.0 L521.0 578.0 L524.0 579.6 L527.0 582.4 L530.0 585.0 L533.0 585.6 L536.0 589.0 L539.0 591.6 L542.0 592.4 L545.0 592.4 L548.0 591.6 L551.0 593.6 L554.0 595.0 L557.0 594.0 L559.0 592.4 L561.0 595.6 L564.0 597.0 L567.0 596.4 L570.0 599.0 L573.0 601.0 L576.0 601.6 L578.0 602.0 L580.0 609.0 L582.0 609.6 L585.0 608.0 L588.0 609.0 L590.0 604.0 L592.0 605.0 L595.0 607.0 L598.0 608.0 L601.0 607.0 L604.0 603.0 L607.0 600.0 L610.0 598.4 L611.8 599.0 L612.0 599.6 L615.0 598.4 L618.0 598.0 L621.0 597.0 L624.0 595.6 L627.0 596.0 L630.0 598.0 L633.0 599.6 L636.0 601.0 L639.0 603.0 L642.0 605.0 L645.0 608.0 L647.6 611.0 L650.0 612.4 L653.0 613.6 L656.0 615.6 L659.0 615.0 L662.0 614.4 L665.0 613.6 L668.0 613.0 L671.0 615.0 L673.0 616.0 L675.0 611.0 L676.4 610.0 L677.6 620.0 L679.0 633.0 L682.0 633.0 L685.0 632.0 L687.0 631.0 L688.4 637.0 L690.4 641.0 L693.0 643.6 L696.0 645.0 L699.0 646.0 L702.0 647.6 L705.0 649.0 L708.0 649.6 L711.0 648.0 L713.0 647.0 L715.0 649.6 L718.0 649.0 L721.0 651.0 L724.0 653.0 L727.0 654.4 L730.0 655.0 L732.0 654.0 L735.0 654.4 L738.0 655.0 L741.0 656.4 L744.0 655.6 L747.0 654.4 L750.0 656.0 L753.0 655.0 L755.0 658.0 L756.4 668.0 L757.2 674.0 L758.4 666.0 L760.0 658.0 L762.0 644.0 L763.2 622.0 L765.0 621.0 L768.0 617.0 L771.0 615.6 L774.0 617.0 L777.0 618.4 L780.0 620.0 L783.0 622.0 L786.0 623.0 L787.6 617.0 L790.0 614.0 L793.0 612.0 L796.0 611.6 L798.0 610.0 L800.0 601.0 L803.0 600.4 L806.0 602.0 L809.0 601.0 L812.0 599.0 L815.0 600.0 L818.0 604.0 L821.0 606.0 L823.0 609.0 L826.0 613.0 L828.0 610.4 L830.0 617.0 L831.4 621.0 L833.0 619.0 L835.0 616.0 L837.0 613.0 L840.0 609.0 L843.0 606.0 L846.0 602.4 L849.0 600.4 L852.0 600.0 L855.0 600.4 L857.6 599.6 L859.6 596.0 L860.0 594.4 L863.0 593.6 L866.0 593.0 L869.0 594.4 L872.0 595.6 L875.0 597.0 L878.0 599.0 L881.0 601.6 L884.0 603.6 L887.0 604.4 L890.0 607.0 L893.0 608.4 L896.0 609.6 L899.0 610.4 L902.0 611.6 L905.0 612.0 L908.0 611.6 L911.0 610.4 L914.0 609.6 L917.0 609.0 L920.0 609.6 L923.0 609.2 L926.0 609.6 L929.0 610.0 L932.0 607.6 L934.0 606.4 L937.0 608.0 L940.0 607.6 L943.0 608.0 L946.0 607.6 L949.0 606.4 L951.0 604.0 L953.0 602.0 L955.6 603.0 L958.0 604.0 L961.0 602.4 L963.0 605.0 L965.0 611.0 L968.0 613.6 L970.0 617.0 L972.0 619.0 L974.0 620.0 L976.0 617.6 L979.0 617.0 L982.0 618.4 L985.0 618.0 L988.0 619.0 L991.0 619.6 L994.0 618.0 L996.0 615.0 L997.6 611.6 L999.0 614.0 L1001.0 610.0 L1003.0 613.6 L1006.0 613.0 L1009.0 614.0 L1012.0 613.6 L1015.0 615.0 L1018.0 616.0 L1021.0 614.4 L1023.0 617.0 L1026.0 619.0 L1029.0 620.4 L1031.6 621.0 L1033.6 616.0 L1035.6 613.0 L1038.0 614.0 L1041.0 615.0 L1043.0 618.0 L1045.0 621.0 L1047.0 624.0 L1049.0 625.6 L1051.6 626.4 L1054.0 628.0 L1057.0 630.0 L1059.6 627.0 L1060.0 625.0 L1062.3 624.3 L1064.6 623.5 L1066.9 622.0 L1069.2 621.2 L1071.5 620.9 L1073.7 620.5 L1076.0 621.2 L1078.3 622.4 L1080.6 622.7 L1082.9 621.5 L1084.4 623.5 L1086.3 627.3 L1088.2 631.1 L1089.8 632.7 L1091.8 630.4 L1093.6 629.2 L1095.9 629.6 L1097.4 632.7 L1098.9 634.7 L1100.9 633.7 L1102.7 633.4 L1104.6 630.4 L1106.6 628.1 L1108.5 627.6 L1110.4 628.9 L1111.9 631.1 L1113.4 632.7 L1114.5 639.5 L1115.7 648.7 L1117.3 650.2 L1118.8 649.5 L1120.3 650.5 L1121.8 652.5 L1123.4 654.0 L1124.9 655.6 L1126.4 653.6 L1127.9 654.8 L1129.5 656.3 L1131.0 657.9 L1132.5 658.2 L1134.0 659.4 L1135.6 660.6 L1137.1 661.7" stroke="#1f77b4"/><path d="M108.0 370.0 L110.0 375.0 L112.0 378.0 L115.0 381.0 L118.0 380.0 L120.0 377.0 L123.0 376.0 L126.0 376.4 L129.0 375.6 L132.0 375.0 L135.0 373.0 L137.0 370.0 L140.0 369.6 L142.0 371.0 L144.0 374.0 L145.6 382.0 L147.0 392.0 L148.4 406.0 L149.6 426.0 L151.0 450.0 L152.4 472.0 L153.6 486.0 L155.0 493.0 L157.0 494.0 L159.0 493.0 L160.4 489.0 L162.4 491.0 L164.0 497.0 L166.0 496.0 L168.0 493.0 L170.0 494.0 L173.0 495.0 L176.0 497.0 L179.0 500.0 L181.0 495.0 L183.0 493.0 L185.0 490.0 L188.0 491.0 L191.0 489.0 L194.0 490.0 L197.0 488.0 L200.0 489.0 L201.0 487.0 L203.0 489.6 L206.0 489.0 L209.0 492.0 L211.0 498.0 L213.0 505.0 L215.0 512.0 L217.0 517.0 L219.0 516.0 L220.4 510.0 L222.0 507.0 L225.0 505.0 L228.0 503.6 L231.0 505.0 L234.0 508.0 L236.0 512.0 L238.0 520.0 L241.0 522.0 L243.0 518.0 L245.0 519.0 L248.0 517.0 L250.0 523.0 L253.0 522.0 L256.0 524.0 L259.0 525.0 L260.0 527.0 L262.0 524.4 L265.0 523.6 L268.0 523.0 L271.0 521.0 L273.0 520.0 L275.0 522.0 L278.0 524.0 L281.0 526.0 L284.0 524.0 L287.0 523.6 L290.0 525.0 L293.0 526.0 L296.0 525.6 L299.0 528.0 L302.0 530.0 L304.0 531.6 L307.0 529.0 L310.0 529.0 L312.0 534.0 L314.0 540.0 L316.0 548.0 L317.6 555.0 L319.0 558.0 L321.0 559.0 L322.4 565.0 L324.0 574.0 L326.0 578.0 L328.0 583.0 L330.0 587.0 L333.0 587.6 L336.0 588.4 L339.0 589.0 L342.0 590.0 L345.0 593.0 L348.0 594.4 L352.0 594.4 L355.8 594.0 L356.0 594.0 L360.0 594.4 L364.0 594.0 L367.0 596.0 L370.0 598.4 L373.0 600.4 L376.0 600.0 L379.0 601.0 L381.0 600.0 L383.0 595.0 L385.0 590.0 L387.0 585.0 L389.0 579.0 L391.0 575.0 L393.0 574.0 L396.0 576.4 L399.0 577.0 L402.0 577.6 L405.0 577.0 L408.0 573.0 L411.0 570.0 L414.0 568.6 L417.0 571.0 L420.0 573.0 L423.0 575.0 L426.0 577.0 L429.0 578.0 L432.0 576.0 L435.0 573.0 L438.0 571.6 L441.0 570.4 L444.0 569.6 L446.0 573.0 L448.0 577.0 L450.0 576.4 L453.0 579.0 L455.0 580.0 L458.0 577.0 L461.0 574.4 L463.0 579.0 L465.0 581.0 L468.0 583.0 L470.0 589.0 L472.0 591.6 L475.0 592.4 L478.0 593.0 L481.0 594.0 L484.0 597.0 L486.0 598.0 L488.0 597.0 L490.4 595.0 L492.0 600.0 L493.6 607.0 L495.6 611.0 L497.6 608.0 L500.0 604.4 L503.0 607.0 L506.0 609.0 L509.0 614.4 L511.6 618.0 L514.0 612.0 L516.0 609.6 L518.4 613.0 L521.0 616.0 L523.6 619.0 L525.6 622.4 L527.6 618.0 L530.0 614.0 L532.0 611.0 L534.0 609.0 L536.0 608.0 L538.0 604.0 L540.0 600.0 L543.0 595.0 L546.0 592.4 L548.0 589.0 L550.0 584.0 L552.0 578.0 L554.0 573.0 L556.0 568.0 L558.0 566.4 L561.0 566.0 L564.0 565.0 L566.0 563.0 L568.0 566.0 L570.0 568.0 L573.0 571.0 L576.0 570.0 L577.6 568.0 L579.0 575.0 L581.0 583.0 L583.0 588.0 L586.0 589.0 L589.0 592.0 L592.0 588.0 L595.0 588.4 L598.0 592.0 L600.0 595.0 L602.0 594.0 L604.0 591.0 L607.0 590.0 L610.0 589.0 L611.8 590.0 L612.0 591.0 L614.4 590.0 L616.0 600.0 L617.6 616.0 L619.6 627.0 L622.0 626.0 L625.0 624.0 L628.0 623.0 L631.0 625.0 L634.0 628.0 L637.0 629.0 L640.0 634.0 L643.0 638.0 L645.6 644.0 L647.6 648.0 L649.6 643.0 L651.0 638.0 L654.0 637.6 L657.0 640.0 L660.0 637.0 L663.0 632.0 L665.0 629.0 L667.0 631.0 L669.0 629.0 L671.0 630.0 L673.6 626.0 L675.6 628.0 L677.6 640.0 L679.6 650.0 L681.0 638.0 L682.4 635.0 L684.0 637.6 L685.6 632.0 L687.6 642.0 L689.6 648.0 L691.6 640.0 L693.6 633.0 L696.0 629.6 L698.4 627.0 L701.0 629.0 L704.0 630.0 L707.0 632.4 L710.0 633.0 L713.0 638.0 L716.0 642.0 L719.0 644.0 L722.0 645.6 L724.4 640.0 L727.0 638.0 L730.0 638.4 L732.0 643.0 L734.4 642.0 L736.4 646.0 L739.0 651.0 L741.6 654.0 L744.0 652.4 L746.4 649.6 L749.0 652.0 L751.6 655.0 L754.0 656.0 L756.0 668.0 L757.2 674.4 L758.6 666.0 L760.0 652.0 L761.6 630.0 L763.0 608.0 L765.0 604.0 L767.0 600.0 L770.0 595.0 L773.0 592.0 L776.0 589.6 L779.0 589.0 L782.0 588.0 L784.0 587.0 L786.0 581.0 L788.0 568.0 L790.0 559.0 L792.0 554.0 L795.0 551.0 L797.0 546.0 L799.0 542.0 L801.0 541.0 L803.0 544.4 L806.0 545.0 L809.0 544.0 L812.0 545.0 L815.0 547.0 L817.0 544.0 L819.0 538.0 L821.0 532.0 L823.0 528.0 L825.0 524.0 L827.0 522.4 L828.4 528.0 L831.0 532.4 L834.0 528.0 L836.0 524.4 L839.0 525.0 L841.0 528.0 L843.0 532.0 L845.6 528.0 L848.0 525.0 L851.0 527.6 L854.0 526.4 L857.0 524.0 L859.6 522.4 L860.0 521.6 L863.0 523.0 L866.0 523.6 L869.0 523.0 L872.0 522.4 L875.0 524.0 L878.0 528.0 L881.0 532.0 L884.0 535.0 L887.0 535.6 L889.6 539.0 L892.0 544.0 L895.0 549.0 L898.0 553.6 L901.0 558.0 L904.0 561.0 L907.0 564.0 L910.0 568.0 L913.0 570.0 L916.0 569.0 L919.0 569.0 L922.0 568.0 L925.0 568.4 L927.0 567.6 L929.0 571.0 L930.4 572.4 L932.4 569.0 L935.0 565.0 L938.0 562.0 L941.0 559.6 L944.0 558.0 L947.0 557.0 L949.0 555.0 L951.0 549.0 L953.0 545.6 L955.6 547.0 L958.0 548.0 L960.0 546.0 L962.0 549.0 L963.6 555.0 L965.6 558.0 L968.0 560.0 L971.0 561.6 L974.0 564.0 L976.4 567.0 L978.4 572.0 L980.0 574.0 L983.0 573.0 L986.0 572.4 L989.0 573.0 L992.0 572.0 L995.0 570.0 L997.0 566.0 L999.0 568.0 L1001.0 567.0 L1002.4 571.0 L1004.0 574.4 L1006.0 569.0 L1008.0 566.0 L1011.0 563.0 L1014.0 560.0 L1016.4 557.0 L1018.4 552.0 L1020.0 543.0 L1021.2 535.0 L1022.4 529.0 L1023.6 534.0 L1025.6 538.0 L1028.0 540.0 L1030.0 543.0 L1032.0 548.0 L1033.6 552.0 L1036.0 552.4 L1037.6 558.0 L1039.0 563.0 L1041.0 570.0 L1042.4 578.0 L1044.0 582.0 L1046.0 588.0 L1048.0 596.0 L1050.0 601.0 L1052.0 604.0 L1053.6 607.0 L1055.0 612.0 L1057.0 611.0 L1059.0 606.0 L1060.0 607.5 L1061.5 602.9 L1063.8 599.1 L1066.1 596.0 L1068.4 593.7 L1070.7 592.2 L1073.0 591.5 L1075.3 589.9 L1077.6 591.0 L1079.8 590.4 L1082.1 589.9 L1084.4 590.7 L1086.7 590.4 L1088.7 593.7 L1090.5 591.5 L1092.8 588.4 L1095.1 585.3 L1097.4 583.4 L1099.7 581.8 L1102.0 581.2 L1104.3 581.5 L1106.6 582.7 L1108.9 583.4 L1111.1 585.3 L1113.1 587.6 L1114.2 593.7 L1115.3 602.9 L1116.5 608.2 L1118.0 608.7 L1119.5 610.5 L1121.1 613.6 L1122.6 618.2 L1124.1 622.7 L1126.0 622.0 L1127.9 620.9 L1129.9 620.5 L1131.5 618.2 L1133.0 614.4 L1134.8 612.1 L1136.3 611.8 L1137.6 612.4" stroke="#ff7f0e"/><path d="M108.0 375.0 L110.0 380.0 L113.0 385.0 L116.0 388.0 L119.0 390.0 L122.0 393.0 L125.0 395.0 L128.0 396.0 L132.0 396.0 L135.0 394.0 L138.0 393.0 L141.0 394.0 L144.0 395.0 L148.0 395.0 L151.0 393.0 L153.0 394.0 L156.0 397.0 L160.0 399.0 L164.0 400.0 L168.0 402.0 L172.0 401.0 L175.0 402.0 L178.0 399.0 L181.0 393.0 L184.0 391.0 L187.0 388.0 L190.0 386.4 L193.0 386.0 L196.0 385.6 L199.0 385.0 L202.0 384.4 L205.0 384.0 L207.0 383.6 L209.0 385.0 L211.0 387.0 L213.0 390.0 L216.0 391.0 L219.0 390.0 L222.0 389.6 L225.0 389.0 L228.0 389.6 L231.0 390.4 L234.0 391.0 L237.0 391.6 L239.0 391.0 L241.0 395.0 L243.0 399.0 L245.0 401.0 L247.0 403.0 L249.0 402.4 L251.0 405.0 L253.0 407.0 L255.0 409.0 L258.0 409.6 L261.0 410.4 L264.0 411.0 L267.0 411.6 L270.0 411.0 L273.0 410.0 L275.0 409.6 L277.0 411.0 L279.0 413.0 L282.0 414.0 L285.0 413.6 L287.0 414.0 L289.0 417.0 L291.0 421.0 L293.0 423.6 L296.0 424.0 L299.0 423.6 L302.0 424.0 L304.0 420.0 L306.0 415.0 L308.0 414.0 L310.0 408.0 L311.6 407.0 L313.0 412.0 L315.0 418.0 L316.4 428.0 L318.0 438.0 L320.0 445.0 L322.0 448.0 L324.0 452.0 L327.0 453.0 L330.0 453.6 L333.0 454.4 L336.0 455.0 L339.0 456.0 L342.0 457.0 L345.0 458.4 L348.0 459.6 L351.0 460.6 L354.0 461.6 L355.8 462.0 L356.0 462.0 L360.0 464.0 L364.0 466.4 L367.0 467.0 L370.0 466.4 L373.0 470.0 L376.0 472.4 L379.0 474.4 L382.0 476.0 L384.0 477.0 L387.0 474.0 L390.0 471.6 L393.0 470.0 L396.0 470.4 L399.0 471.0 L402.0 471.6 L405.0 473.0 L408.0 470.4 L411.0 469.0 L414.0 469.0 L417.0 471.6 L420.0 474.0 L423.0 476.0 L426.0 478.0 L429.0 480.4 L432.0 482.4 L435.0 483.6 L438.0 485.0 L441.0 486.4 L444.0 487.6 L445.6 490.0 L447.0 496.0 L449.0 498.0 L451.0 501.0 L454.0 503.6 L457.0 505.0 L460.0 505.6 L462.0 507.0 L465.0 511.0 L468.0 513.0 L471.0 516.0 L474.0 516.6 L477.0 517.0 L480.0 518.0 L483.0 519.0 L486.0 518.4 L489.0 518.0 L491.0 519.0 L493.0 524.0 L495.0 528.0 L498.0 529.0 L501.0 531.0 L504.0 533.6 L507.0 535.0 L510.0 535.0 L513.0 533.0 L515.0 529.0 L517.0 525.6 L520.0 524.4 L523.0 523.6 L526.0 522.4 L529.0 523.0 L532.0 523.0 L535.0 522.4 L537.0 525.6 L539.0 520.0 L541.0 515.0 L543.0 511.0 L546.0 509.6 L549.0 511.0 L552.0 512.0 L555.0 511.0 L558.0 512.4 L561.0 516.4 L564.0 517.6 L567.0 517.6 L570.0 520.0 L573.0 523.0 L576.0 524.0 L579.0 525.0 L582.0 528.0 L585.0 529.0 L588.0 530.0 L591.0 529.6 L594.0 532.0 L597.0 535.0 L599.0 537.0 L602.0 536.4 L605.0 535.6 L608.0 535.0 L611.8 535.0 L612.0 535.0 L615.0 536.0 L618.0 537.6 L621.0 536.4 L624.0 535.0 L627.0 534.4 L630.0 535.0 L633.0 537.0 L636.0 537.6 L639.0 538.0 L642.0 539.0 L644.4 541.0 L647.0 543.6 L650.0 542.0 L653.0 541.0 L655.0 540.0 L657.0 542.0 L660.0 541.0 L663.0 538.0 L665.0 537.0 L668.0 539.0 L671.0 542.4 L674.0 544.4 L676.4 546.0 L678.0 550.0 L679.6 557.0 L682.0 555.6 L685.0 556.4 L688.0 558.0 L691.0 559.0 L694.0 561.6 L697.0 563.0 L700.0 564.4 L703.0 565.6 L706.0 567.0 L709.0 568.0 L712.0 569.6 L714.0 572.0 L716.4 574.0 L719.0 575.6 L721.6 578.0 L724.0 580.0 L726.4 583.0 L729.0 587.0 L731.6 589.0 L734.4 588.0 L737.6 587.6 L740.4 588.0 L743.6 587.6 L746.4 590.0 L749.0 591.6 L751.0 587.0 L753.0 585.6 L754.4 588.0 L756.0 598.0 L757.4 602.4 L759.0 599.0 L761.0 594.0 L762.0 576.0 L763.0 546.0 L765.0 543.6 L767.0 540.0 L769.0 537.6 L772.0 537.0 L775.0 538.0 L778.0 540.0 L781.0 542.0 L784.0 543.0 L786.0 540.0 L788.0 534.0 L790.0 529.6 L792.0 528.0 L793.6 531.0 L795.6 528.0 L797.6 522.0 L799.0 518.0 L802.0 517.6 L805.0 518.0 L808.0 517.0 L810.0 513.0 L813.0 513.6 L815.6 513.0 L818.0 508.0 L821.0 506.0 L823.6 504.0 L826.0 507.0 L828.4 506.4 L830.0 512.0 L831.6 520.0 L834.0 519.6 L837.0 518.0 L840.0 517.0 L843.0 515.0 L846.0 514.4 L849.0 513.0 L852.0 512.0 L854.0 514.0 L856.0 519.0 L858.4 515.0 L860.0 515.0 L863.0 515.6 L866.0 516.4 L868.0 515.6 L871.0 517.0 L874.0 519.0 L877.0 521.6 L880.0 524.0 L883.0 527.6 L886.0 528.4 L889.0 529.0 L892.0 531.6 L895.0 535.0 L898.0 538.0 L901.0 540.0 L903.0 539.0 L905.0 537.6 L907.0 536.0 L909.0 534.0 L912.0 534.4 L915.0 533.6 L918.0 532.4 L921.0 531.6 L924.0 532.0 L927.0 532.4 L930.0 532.0 L933.0 530.0 L936.0 528.4 L939.0 528.0 L942.0 527.6 L945.0 528.0 L948.0 527.6 L950.0 525.0 L953.0 523.6 L956.0 524.0 L959.0 525.0 L962.0 525.6 L964.0 528.0 L966.0 531.6 L969.0 533.0 L972.0 535.0 L975.0 538.0 L978.0 541.6 L980.0 543.0 L983.0 542.4 L986.0 543.0 L989.0 543.6 L992.0 543.6 L995.0 544.0 L997.0 541.6 L999.0 540.4 L1000.6 538.0 L1002.4 540.0 L1004.0 543.0 L1007.0 545.6 L1010.0 547.6 L1013.0 549.0 L1016.0 550.4 L1019.0 552.0 L1022.0 554.0 L1025.0 556.4 L1028.0 559.6 L1031.0 562.4 L1034.0 565.0 L1037.0 567.0 L1040.0 570.0 L1042.0 575.0 L1044.0 579.6 L1046.0 584.0 L1048.0 588.0 L1050.0 592.0 L1052.0 595.0 L1054.0 598.0 L1057.0 598.4 L1059.0 597.0 L1060.0 596.0 L1062.3 596.5 L1064.6 595.6 L1066.9 596.0 L1069.2 596.5 L1071.5 597.1 L1073.7 596.8 L1076.0 598.0 L1078.3 599.5 L1080.6 599.1 L1082.9 598.6 L1085.2 600.2 L1087.2 602.9 L1088.7 607.5 L1090.5 609.3 L1092.8 608.2 L1095.1 607.5 L1097.4 607.8 L1099.7 608.2 L1102.0 608.7 L1104.3 609.8 L1106.6 610.5 L1108.9 612.1 L1111.1 614.4 L1112.7 617.4 L1113.7 622.7 L1114.7 631.9 L1115.7 640.3 L1117.3 645.6 L1118.8 651.0 L1120.3 654.8 L1121.8 658.6 L1123.4 663.2 L1124.9 667.8 L1126.4 670.1 L1127.9 672.4 L1129.5 673.9 L1131.0 675.4 L1132.5 673.4 L1134.0 672.4 L1135.6 671.6" stroke="#2ca02c"/><path d="M108.0 371.0 L110.0 374.0 L112.0 378.0 L114.0 375.0 L116.0 377.0 L118.0 374.0 L120.0 373.0 L122.0 376.0 L125.0 377.0 L128.0 376.0 L131.0 375.6 L134.0 374.0 L136.0 371.6 L138.0 373.0 L140.0 375.0 L143.0 377.0 L146.0 379.0 L148.0 378.0 L150.0 377.6 L151.6 382.0 L153.0 388.0 L154.4 396.0 L157.0 398.0 L160.0 398.0 L163.0 400.0 L165.0 403.0 L168.0 403.0 L170.0 400.0 L172.0 406.0 L173.6 416.0 L176.0 417.6 L178.0 417.0 L179.6 408.0 L181.0 399.0 L183.0 397.0 L186.0 397.6 L189.0 397.0 L192.0 397.0 L194.0 400.0 L197.0 405.0 L200.0 408.0 L202.0 410.0 L204.0 407.0 L207.0 405.6 L210.0 405.0 L212.0 408.0 L215.0 410.0 L218.0 410.4 L221.0 412.4 L224.0 413.0 L227.0 412.4 L229.0 415.0 L231.0 418.0 L233.0 422.0 L235.0 425.0 L237.0 423.0 L239.0 429.0 L241.0 433.0 L243.0 437.0 L245.0 436.0 L247.0 440.0 L249.0 444.0 L251.0 443.6 L253.0 449.0 L255.0 452.0 L257.0 448.0 L259.0 449.0 L261.0 456.0 L263.0 459.0 L266.0 460.0 L269.0 461.0 L272.0 459.0 L275.0 458.0 L278.0 461.0 L281.0 463.6 L284.0 464.4 L287.0 466.0 L290.0 468.0 L293.0 471.0 L296.0 469.0 L299.0 468.0 L302.0 470.0 L305.0 469.6 L308.0 469.0 L311.0 469.0 L312.0 479.0 L313.6 474.0 L316.0 468.0 L319.0 465.0 L321.0 464.0 L323.0 468.0 L325.0 470.0 L328.0 469.0 L331.0 471.0 L334.0 471.6 L337.0 471.0 L340.0 472.0 L343.0 474.0 L346.0 475.0 L349.0 477.0 L352.0 477.6 L355.8 477.6 L356.0 478.0 L360.0 477.6 L364.0 477.6 L367.0 478.4 L370.0 479.0 L372.0 478.0 L373.0 484.0 L374.4 496.0 L376.0 501.0 L377.6 510.0 L379.6 520.0 L381.0 529.0 L381.8 536.0 L382.0 540.0 L384.0 548.0 L386.0 555.0 L389.0 557.0 L392.0 558.0 L395.0 560.0 L398.0 561.6 L401.0 563.0 L404.0 564.0 L407.0 565.0 L410.0 565.6 L413.0 564.4 L416.0 565.0 L419.0 566.0 L422.0 565.6 L425.0 567.0 L428.0 568.0 L430.0 570.0 L431.6 577.0 L434.0 578.4 L437.0 580.0 L440.0 581.6 L443.0 583.6 L445.6 585.6 L447.6 591.0 L450.0 591.6 L453.0 590.4 L455.0 592.4 L458.0 595.6 L461.0 598.0 L464.0 596.0 L467.0 594.0 L470.0 593.6 L473.0 595.0 L476.0 596.0 L479.0 597.6 L482.0 598.4 L485.0 597.0 L488.0 595.0 L490.0 590.0 L492.0 588.0 L494.0 590.4 L497.0 591.6 L500.0 593.6 L503.0 596.0 L506.0 598.0 L509.0 596.0 L512.0 593.6 L515.0 592.4 L518.0 590.4 L521.0 589.6 L524.0 591.0 L527.0 594.0 L530.0 595.6 L533.0 597.0 L535.0 600.0 L537.0 604.0 L540.0 607.0 L543.0 605.0 L546.0 603.6 L549.0 604.4 L552.0 606.4 L555.0 605.6 L558.0 604.0 L561.0 605.0 L564.0 608.0 L567.0 611.0 L570.0 613.0 L573.0 615.6 L576.0 617.0 L578.0 616.0 L580.0 619.0 L582.0 620.4 L585.0 619.0 L588.0 617.0 L591.0 617.6 L594.0 619.0 L597.0 620.4 L600.0 619.0 L603.0 618.0 L606.0 617.0 L609.0 615.6 L611.8 614.4 L612.0 615.0 L615.0 615.6 L618.0 616.0 L621.0 613.6 L624.0 612.4 L627.0 614.4 L630.0 617.0 L633.0 620.0 L636.0 621.6 L639.0 624.0 L642.0 626.4 L645.0 628.4 L648.0 631.0 L651.0 629.6 L654.0 631.0 L657.0 632.4 L660.0 633.0 L663.0 633.6 L666.0 632.4 L669.0 637.0 L672.0 639.0 L675.0 638.0 L676.0 631.0 L677.0 638.0 L678.4 650.0 L680.0 654.0 L682.0 655.0 L684.4 652.0 L686.4 649.6 L688.4 655.0 L690.4 658.0 L692.0 654.0 L694.0 659.6 L697.0 662.0 L700.0 663.6 L703.0 665.0 L706.0 666.0 L709.0 667.0 L712.0 665.0 L715.0 663.6 L718.0 662.4 L721.0 661.6 L724.0 661.0 L727.0 660.0 L729.0 656.0 L732.0 655.0 L735.0 658.0 L738.0 659.0 L741.0 658.0 L744.0 658.4 L746.0 655.0 L748.0 649.6 L750.0 655.0 L752.0 656.0 L754.4 659.0 L756.0 668.0 L757.2 674.4 L758.6 668.0 L760.4 660.0 L762.0 650.0 L763.6 640.0 L765.0 638.0 L767.0 640.0 L769.0 636.0 L772.0 635.6 L775.0 637.0 L778.0 639.0 L781.0 641.0 L783.6 643.0 L785.6 644.0 L787.6 636.0 L790.0 638.0 L793.0 638.4 L796.0 639.6 L798.0 637.0 L800.0 633.6 L803.0 633.0 L806.0 633.0 L809.0 632.4 L812.0 633.0 L814.0 634.0 L816.0 637.6 L819.0 641.0 L821.0 647.0 L823.0 654.0 L825.6 659.0 L828.0 661.0 L830.0 668.0 L831.4 672.0 L833.6 669.0 L836.0 664.0 L838.0 661.0 L840.0 655.0 L842.0 648.0 L844.0 643.0 L847.0 641.0 L850.0 639.0 L853.0 637.6 L856.0 635.6 L859.0 631.0 L860.0 629.0 L863.0 628.0 L866.0 627.0 L869.0 626.4 L872.0 627.0 L875.0 628.0 L878.0 630.0 L881.0 634.0 L884.0 636.4 L887.0 637.0 L890.0 639.0 L893.0 641.0 L896.0 642.4 L899.0 644.0 L902.0 645.0 L905.0 646.0 L908.0 646.4 L911.0 645.6 L914.0 644.4 L917.0 643.6 L920.0 644.0 L923.0 644.4 L926.0 644.0 L929.0 641.0 L932.0 639.0 L935.0 638.0 L938.0 637.6 L941.0 638.0 L944.0 638.4 L947.0 639.0 L950.0 638.0 L952.0 636.4 L955.0 637.0 L958.0 636.4 L961.0 635.6 L963.6 638.0 L966.0 641.0 L969.0 642.0 L971.0 645.6 L974.0 646.4 L977.0 647.0 L980.0 645.6 L983.0 645.0 L986.0 646.0 L989.0 645.6 L992.0 646.4 L994.4 644.4 L996.4 641.0 L999.0 640.0 L1001.6 641.0 L1004.0 640.0 L1007.0 641.6 L1010.0 641.0 L1013.0 642.4 L1016.0 643.0 L1019.0 642.4 L1022.0 640.4 L1025.0 642.4 L1028.0 644.0 L1031.0 645.6 L1033.0 646.4 L1035.0 643.6 L1037.0 646.0 L1039.6 644.4 L1042.0 643.0 L1044.0 647.0 L1046.4 650.0 L1049.0 652.4 L1052.0 653.0 L1055.0 655.0 L1058.0 652.0 L1060.0 649.9 L1062.3 649.5 L1064.6 650.2 L1066.9 648.7 L1069.2 647.2 L1071.5 646.0 L1073.7 645.3 L1076.0 646.4 L1078.0 646.0 L1079.5 650.5 L1081.4 651.0 L1083.7 650.2 L1085.6 652.5 L1087.5 655.6 L1089.3 657.9 L1091.3 658.2 L1093.3 655.6 L1095.1 655.1 L1096.6 657.1 L1098.2 662.4 L1100.0 663.2 L1102.0 662.1 L1104.0 661.7 L1105.5 654.8 L1107.0 649.5 L1108.9 648.4 L1110.7 649.5 L1112.7 650.5 L1114.2 651.0 L1115.3 661.7 L1116.8 663.7 L1118.8 663.2 L1120.8 662.4 L1122.6 661.7 L1124.1 664.7 L1125.6 660.9 L1127.2 660.2 L1128.7 662.4 L1130.2 664.0 L1131.8 667.0 L1133.3 666.3 L1134.8 670.1 L1136.3 671.3 L1137.6 673.9" stroke="#d62728"/><path d="M108.0 385.0 L110.0 390.0 L112.0 388.0 L113.6 394.0 L116.0 392.0 L118.0 396.0 L121.0 397.0 L123.0 402.0 L125.0 401.0 L127.0 405.0 L130.0 407.0 L133.0 406.0 L136.0 407.0 L139.0 405.0 L142.0 403.0 L145.0 401.0 L148.0 403.0 L150.0 399.0 L152.0 397.0 L155.0 400.0 L158.0 403.0 L161.0 402.0 L164.0 406.0 L167.0 407.0 L170.0 408.0 L173.0 407.0 L176.0 405.0 L179.0 401.0 L180.0 386.0 L180.4 376.0 L183.0 374.0 L186.0 372.0 L189.0 370.0 L191.0 370.4 L193.0 373.0 L194.4 380.0 L196.0 388.0 L198.0 392.0 L199.6 402.0 L201.0 410.0 L202.0 427.0 L204.0 424.0 L206.0 419.0 L208.0 420.0 L210.0 414.0 L212.0 418.0 L213.6 410.0 L215.6 416.0 L217.6 422.0 L219.0 430.0 L221.0 433.0 L224.0 434.0 L227.0 438.0 L229.0 442.0 L231.0 448.0 L233.0 453.0 L235.0 458.0 L237.0 460.0 L238.0 467.0 L240.0 465.0 L242.0 464.0 L245.0 465.0 L246.4 472.0 L247.6 479.0 L249.0 466.0 L250.4 478.0 L253.0 478.0 L254.4 481.0 L256.0 472.0 L257.6 465.0 L259.6 466.0 L261.0 478.0 L262.4 469.0 L264.4 468.0 L266.0 473.0 L268.0 478.0 L271.0 477.0 L273.0 480.0 L276.0 480.0 L279.0 481.6 L282.0 484.0 L285.0 483.6 L288.0 485.0 L291.0 484.0 L293.0 487.0 L295.0 480.0 L297.0 479.0 L299.0 482.0 L301.0 481.0 L303.0 485.0 L305.0 486.0 L307.0 480.0 L309.0 479.0 L310.4 484.0 L311.6 490.0 L313.0 500.0 L315.0 488.0 L316.4 498.0 L318.4 496.0 L320.0 488.0 L321.6 482.0 L323.6 486.0 L325.6 490.0 L328.0 491.0 L331.0 492.0 L334.0 493.0 L337.0 495.0 L340.0 496.0 L343.0 498.0 L345.0 502.0 L348.0 503.0 L351.0 501.0 L354.0 500.0 L355.8 501.0 L356.0 501.0 L360.0 501.0 L364.0 499.0 L367.0 496.0 L370.0 492.0 L371.6 484.0 L373.0 483.0 L374.4 491.0 L377.0 493.0 L380.0 495.0 L383.0 500.0 L386.0 502.0 L389.0 506.0 L392.0 509.0 L395.0 511.0 L398.0 512.4 L401.0 513.0 L404.0 515.6 L407.0 515.6 L410.0 515.0 L413.0 512.4 L416.0 511.6 L419.0 512.0 L422.0 513.6 L425.0 514.4 L428.0 515.0 L431.0 515.6 L434.0 517.0 L437.0 519.0 L440.0 521.0 L443.0 523.0 L445.0 528.0 L446.4 535.0 L448.0 538.4 L451.0 539.0 L453.0 535.0 L454.4 531.6 L456.0 538.0 L457.6 543.0 L459.6 546.0 L461.6 545.0 L463.6 538.0 L465.6 532.4 L467.6 534.0 L469.6 537.0 L471.6 536.0 L473.0 528.0 L475.0 526.0 L477.0 529.0 L478.4 537.0 L480.4 541.0 L482.4 544.0 L484.4 548.0 L487.0 546.0 L489.0 540.0 L491.0 533.0 L493.0 535.0 L494.4 532.4 L496.4 538.0 L498.4 548.0 L500.4 549.6 L503.0 551.0 L506.0 551.6 L509.0 551.6 L512.0 554.4 L514.0 551.0 L516.0 546.0 L518.4 545.0 L520.0 546.0 L521.0 552.0 L523.0 555.6 L525.0 557.6 L527.0 561.0 L528.4 566.0 L530.0 571.0 L532.0 570.0 L533.6 576.0 L535.0 583.0 L536.4 575.0 L538.0 582.0 L539.6 589.0 L541.0 594.0 L543.0 599.0 L545.0 600.0 L547.0 602.0 L549.0 604.0 L551.0 603.0 L553.0 608.0 L555.0 613.0 L557.0 611.0 L559.0 609.0 L561.0 612.0 L563.0 610.0 L565.0 605.0 L567.0 604.0 L570.0 604.4 L573.0 603.6 L576.0 603.0 L578.0 606.0 L579.6 618.0 L581.0 624.0 L583.0 621.0 L586.0 620.4 L588.0 619.6 L590.0 609.0 L592.0 608.0 L595.0 606.0 L597.0 603.6 L599.0 605.0 L601.0 606.0 L602.4 596.0 L603.6 584.0 L606.0 583.0 L609.0 581.0 L611.8 580.0 L612.0 581.0 L614.0 570.0 L615.6 561.0 L617.0 566.0 L620.0 568.0 L623.0 567.0 L626.0 566.0 L629.0 565.6 L632.0 566.4 L635.0 567.6 L638.0 570.0 L641.0 574.0 L644.0 577.0 L647.0 579.0 L649.0 573.0 L651.0 578.0 L653.0 583.0 L655.0 591.0 L657.0 595.6 L660.0 594.0 L663.0 592.4 L665.0 588.0 L667.0 580.0 L669.0 577.0 L671.0 573.0 L673.0 562.0 L674.4 559.0 L676.0 564.0 L677.0 580.0 L678.0 594.0 L679.6 603.0 L682.0 606.0 L685.0 607.0 L687.0 605.0 L688.4 618.0 L690.4 624.0 L692.4 631.0 L694.4 634.0 L697.0 633.6 L700.0 633.0 L703.0 634.0 L706.0 634.4 L709.0 632.0 L711.0 629.0 L713.0 631.0 L714.4 637.0 L717.0 639.0 L720.0 641.0 L723.0 644.0 L726.0 645.0 L727.6 652.0 L729.6 656.0 L731.6 663.0 L733.0 654.0 L735.0 653.6 L737.0 656.0 L739.0 659.0 L741.0 658.0 L743.0 655.0 L745.0 649.0 L747.0 647.0 L749.0 649.6 L751.0 646.0 L752.4 643.0 L754.0 649.0 L755.4 660.0 L756.4 670.0 L757.2 675.0 L758.4 668.0 L760.0 662.0 L761.6 652.0 L762.6 630.0 L763.6 615.0 L766.0 614.0 L769.0 612.4 L772.0 611.6 L775.0 613.0 L778.0 614.0 L781.0 615.6 L784.0 617.0 L786.0 618.0 L787.6 610.0 L790.0 605.0 L792.0 600.0 L794.0 599.0 L796.0 601.0 L797.6 596.0 L799.0 584.0 L802.0 583.0 L804.0 582.0 L806.0 585.0 L808.0 588.0 L811.0 585.0 L814.0 583.0 L816.0 587.0 L819.0 589.0 L821.0 592.0 L823.0 585.0 L825.0 596.0 L827.0 590.0 L828.4 577.0 L830.4 582.0 L832.0 576.0 L834.4 579.0 L837.0 573.0 L839.0 572.0 L841.0 579.0 L844.0 577.0 L847.0 575.0 L850.0 578.0 L853.0 582.0 L856.0 581.0 L858.0 577.0 L860.0 571.0 L863.0 569.0 L864.4 567.0 L866.0 574.0 L869.0 577.0 L872.0 576.0 L875.0 575.0 L878.0 574.4 L881.0 575.6 L884.0 574.0 L887.0 573.0 L889.6 574.0 L891.0 583.0 L893.0 578.0 L895.0 572.4 L898.0 572.0 L901.0 573.0 L904.0 573.6 L907.0 573.0 L910.0 574.0 L913.0 575.0 L914.4 572.0 L917.0 574.0 L920.0 573.0 L923.0 574.0 L926.0 574.4 L928.0 576.0 L929.6 581.0 L931.6 577.0 L933.6 578.0 L935.6 588.0 L938.0 587.6 L941.0 587.0 L944.0 585.6 L947.0 587.0 L949.0 584.0 L951.0 579.0 L953.0 574.0 L955.0 577.0 L957.0 580.0 L960.0 579.0 L962.0 577.0 L964.0 582.0 L965.6 594.0 L967.6 596.0 L969.6 602.0 L971.6 607.0 L973.6 609.0 L975.0 598.0 L977.0 591.0 L980.0 590.0 L983.0 592.4 L986.0 593.6 L989.0 594.4 L992.0 595.0 L994.0 590.0 L996.0 588.0 L998.0 579.0 L999.6 588.0 L1001.0 580.0 L1003.0 583.6 L1006.0 582.0 L1009.0 580.0 L1011.0 578.0 L1013.0 583.6 L1016.0 584.4 L1019.0 583.6 L1021.0 582.0 L1023.0 588.0 L1026.0 590.4 L1029.0 590.0 L1031.0 589.0 L1032.4 578.0 L1034.0 564.0 L1035.0 556.0 L1037.0 555.6 L1039.0 558.0 L1041.0 551.0 L1043.0 557.0 L1045.0 552.0 L1047.0 547.0 L1049.6 549.0 L1050.0 546.1 L1051.7 546.1 L1052.8 542.2 L1053.9 538.9 L1055.3 540.0 L1056.4 542.2 L1057.2 550.0 L1058.7 548.9 L1060.0 544.4 L1061.1 541.7 L1062.4 539.4 L1063.9 540.0 L1065.0 536.7 L1066.1 533.3 L1067.6 532.8 L1068.9 534.2 L1070.2 535.0 L1071.7 533.3 L1073.1 534.7 L1074.4 536.1 L1075.8 533.9 L1077.2 530.0 L1078.3 527.8 L1079.4 528.9 L1081.1 527.2 L1082.8 524.4 L1083.9 528.9 L1085.3 532.8 L1086.7 535.6 L1088.3 538.9 L1090.0 538.3 L1091.7 536.7 L1093.3 534.4 L1095.0 534.2 L1096.7 536.1 L1098.3 538.3 L1100.0 539.1 L1101.7 538.7 L1103.3 538.9 L1105.0 539.4 L1106.7 538.9 L1108.3 539.1 L1110.0 539.8 L1111.1 542.8 L1112.2 544.7 L1113.9 545.6 L1114.7 553.3 L1115.3 562.2 L1116.4 560.0 L1117.8 558.3 L1118.7 548.9 L1119.4 544.4 L1120.9 544.2 L1122.2 547.8 L1123.9 548.3 L1125.0 546.7 L1126.1 540.6 L1127.6 539.4 L1128.9 541.7 L1130.6 543.9 L1132.2 545.6 L1133.9 547.2 L1135.0 548.3 L1136.7 547.6 L1137.8 547.6" stroke="#9467bd"/><path d="M107.5 676.3H180.3V624H249V611H256.3V487.6H272.3V537.6H310.6L311.6 496H314.6L315.8 564.4H446.6V605.6H452.2V557.6H538L538.6 565H541L541.6 525.6H643.6V572H649V609.6H676.6L677.2 514.4L678.4 560L679 522H729L730 562.4H745L746.2 447H762.4L764 506.4H766.6L768 376H1075L1076.2 413.5H1077.2L1078.4 369.8H1138.5" stroke="#8c564b" stroke-linejoin="miter"/></g>
<g id="baxis" stroke="#222" fill="none">
<path d="M107.5 368.8V677.4" stroke-width="1.6"/>
<path d="M107.0 676.6H1138.5" stroke-width="1.6"/>
<path d="M107.5 676.6h-6M107.5 664.3h-3.5M107.5 652.0h-3.5M107.5 639.7h-3.5M107.5 627.4h-3.5M107.5 615.1h-6M107.5 602.8h-3.5M107.5 590.6h-3.5M107.5 578.3h-3.5M107.5 566.0h-3.5M107.5 553.7h-6M107.5 541.4h-3.5M107.5 529.1h-3.5M107.5 516.8h-3.5M107.5 504.5h-3.5M107.5 492.2h-6M107.5 479.9h-3.5M107.5 467.6h-3.5M107.5 455.3h-3.5M107.5 443.1h-3.5M107.5 430.8h-6M107.5 418.5h-3.5M107.5 406.2h-3.5M107.5 393.9h-3.5M107.5 381.6h-3.5M107.5 369.3h-6M119.3 676.6v6M338.8 676.6v6M558.3 676.6v6M777.8 676.6v6M997.3 676.6v6" stroke-width="1"/>
</g>
<text class="tk" x="97.5" y="679.9" text-anchor="end">0.00</text>
<text class="tk" x="97.5" y="618.4" text-anchor="end">200.00 m</text>
<text class="tk" x="97.5" y="557.0" text-anchor="end">400.00 m</text>
<text class="tk" x="97.5" y="495.5" text-anchor="end">600.00 m</text>
<text class="tk" x="97.5" y="434.1" text-anchor="end">800.00 m</text>
<text class="tk" x="97.5" y="372.6" text-anchor="end">1.00</text>
<text class="tk" x="119.3" y="692.5" text-anchor="middle">12/10</text>
<text class="tk" x="338.8" y="692.5" text-anchor="middle">12/13</text>
<text class="tk" x="558.3" y="692.5" text-anchor="middle">12/16</text>
<text class="tk" x="777.8" y="692.5" text-anchor="middle">12/19</text>
<text class="tk" x="997.3" y="692.5" text-anchor="middle">12/22</text>
<text class="ax" x="623" y="711.5" text-anchor="middle">Date (UTC)</text>
<text class="ax" transform="translate(28.5,522) rotate(-90)" text-anchor="middle">Norm. CVD (arb. u.)</text>
<rect x="1140" y="539" width="123" height="138" fill="#fff" fill-opacity="0.85" stroke="#ececec" stroke-width="1"/>
<path d="M1147.5 556.2H1165" stroke="#1f77b4" stroke-width="1.7" fill="none"/>
<text class="lg" x="1169.5" y="560.3">all orders</text>
<path d="M1147.5 576.6H1165" stroke="#ff7f0e" stroke-width="1.7" fill="none"/>
<text class="lg" x="1169.5" y="580.7">$100 to $1k</text>
<path d="M1147.5 597.0H1165" stroke="#2ca02c" stroke-width="1.7" fill="none"/>
<text class="lg" x="1169.5" y="601.1">$1k to $10k</text>
<path d="M1147.5 617.4H1165" stroke="#d62728" stroke-width="1.7" fill="none"/>
<text class="lg" x="1169.5" y="621.5">$10k to $100k</text>
<path d="M1147.5 637.8H1165" stroke="#9467bd" stroke-width="1.7" fill="none"/>
<text class="lg" x="1169.5" y="641.9">$100k to $1M</text>
<path d="M1147.5 658.2H1165" stroke="#8c564b" stroke-width="1.7" fill="none"/>
<text class="lg" x="1169.5" y="662.3">$1M to $10M</text>
</svg></body></html>
